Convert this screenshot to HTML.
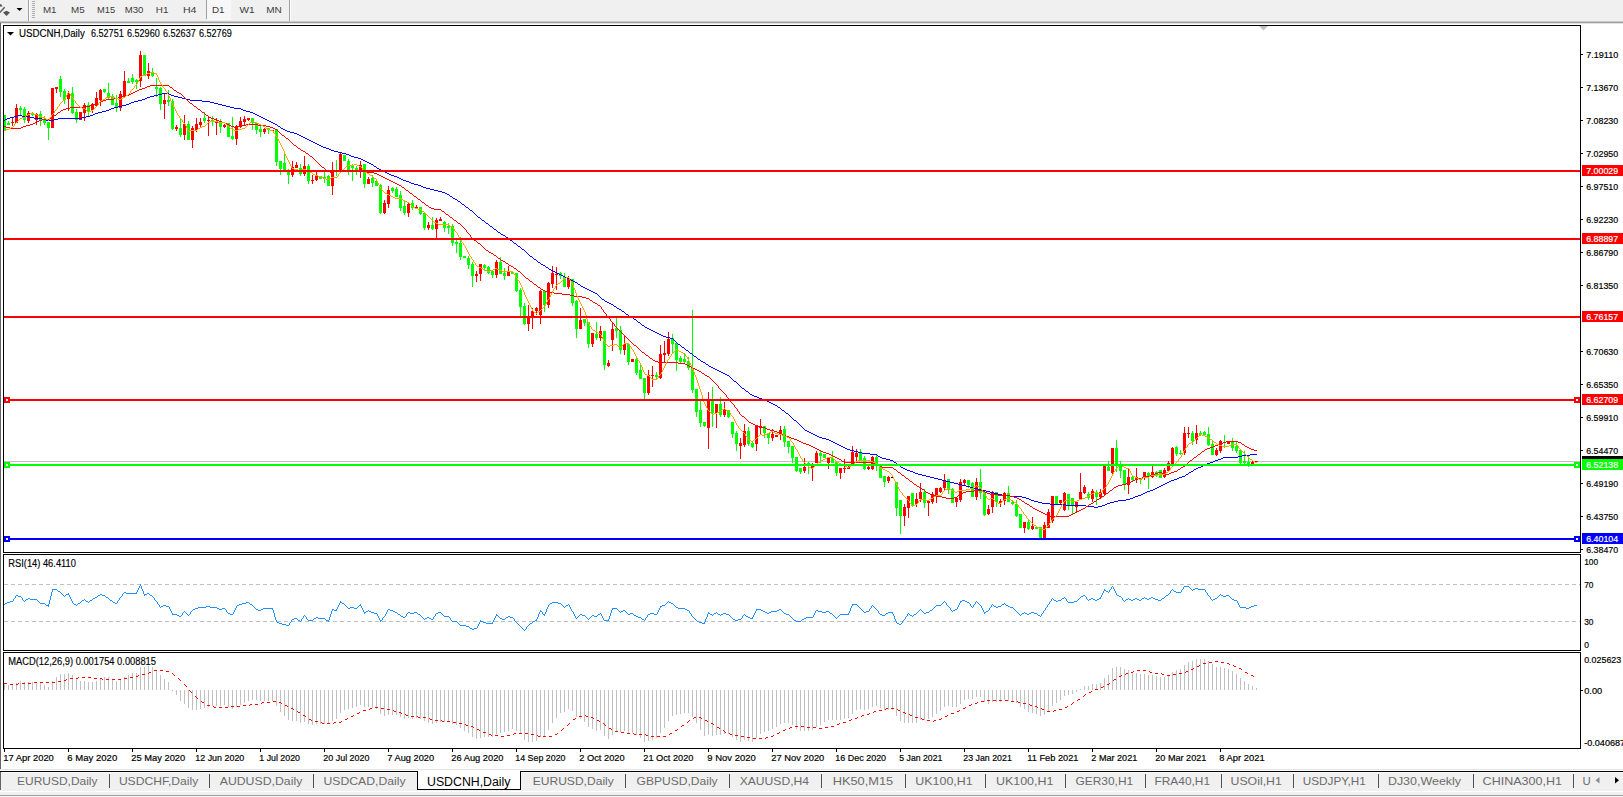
<!DOCTYPE html><html><head><meta charset="utf-8"><title>USDCNH,Daily</title><style>html,body{margin:0;padding:0;background:#fff;overflow:hidden}svg{display:block}</style></head><body><svg width="1623" height="797" viewBox="0 0 1623 797" style="display:block" font-family="Liberation Sans, sans-serif">
<rect width="1623" height="797" fill="#fff"/>
<g shape-rendering="crispEdges">
<rect x="0" y="0" width="1623" height="21" fill="#f0f0f0"/>
<rect x="0" y="21" width="1623" height="1" fill="#c8c8c8"/>
<rect x="0" y="22" width="1623" height="1" fill="#a0a0a0"/>
<rect x="0" y="23" width="1623" height="1" fill="#e3e3e3"/>
<rect x="0" y="23" width="1" height="746" fill="#646464"/>
<rect x="28" y="0" width="1" height="21" fill="#a0a0a0"/><rect x="29" y="0" width="1" height="21" fill="#fff"/>
<rect x="206" y="0" width="1" height="19" fill="#a0a0a0"/>
<rect x="207" y="0" width="24" height="20" fill="#f7f7f7"/>
<rect x="289" y="0" width="1" height="21" fill="#a0a0a0"/><rect x="290" y="0" width="1" height="21" fill="#fff"/>
<rect x="32" y="1" width="3" height="1" fill="#b0b0b0"/>
<rect x="32" y="3" width="3" height="1" fill="#b0b0b0"/>
<rect x="32" y="5" width="3" height="1" fill="#b0b0b0"/>
<rect x="32" y="7" width="3" height="1" fill="#b0b0b0"/>
<rect x="32" y="9" width="3" height="1" fill="#b0b0b0"/>
<rect x="32" y="11" width="3" height="1" fill="#b0b0b0"/>
<rect x="32" y="13" width="3" height="1" fill="#b0b0b0"/>
<rect x="32" y="15" width="3" height="1" fill="#b0b0b0"/>
<rect x="32" y="17" width="3" height="1" fill="#b0b0b0"/>
</g>
<path d="M0 4.2 L1.2 4.2 L2.6 6.4 L0 6.4Z" fill="#555"/><path d="M0 11.2 L4.2 6.8 L5.2 7.8 L0 13.2Z" fill="#555"/><path d="M3 12.6 L6.5 10.8 L10 12.6 L6.5 16Z" fill="#555"/>
<path d="M16.5 8 L22.5 8 L19.5 11Z" fill="#000"/>
<text x="42.9" y="12.9" font-size="9.8" fill="#3c3c3c" textLength="13.6" lengthAdjust="spacingAndGlyphs">M1</text>
<text x="71.0" y="12.9" font-size="9.8" fill="#3c3c3c" textLength="13.6" lengthAdjust="spacingAndGlyphs">M5</text>
<text x="97.1" y="12.9" font-size="9.8" fill="#3c3c3c" textLength="18.1" lengthAdjust="spacingAndGlyphs">M15</text>
<text x="124.7" y="12.9" font-size="9.8" fill="#3c3c3c" textLength="18.6" lengthAdjust="spacingAndGlyphs">M30</text>
<text x="155.8" y="12.9" font-size="9.8" fill="#3c3c3c" textLength="12.6" lengthAdjust="spacingAndGlyphs">H1</text>
<text x="182.9" y="12.9" font-size="9.8" fill="#3c3c3c" textLength="13.6" lengthAdjust="spacingAndGlyphs">H4</text>
<text x="212.0" y="12.9" font-size="9.8" fill="#3c3c3c" textLength="12.6" lengthAdjust="spacingAndGlyphs">D1</text>
<text x="239.6" y="12.9" font-size="9.8" fill="#3c3c3c" textLength="15.1" lengthAdjust="spacingAndGlyphs">W1</text>
<text x="266.2" y="12.9" font-size="9.8" fill="#3c3c3c" textLength="15.6" lengthAdjust="spacingAndGlyphs">MN</text>
<g shape-rendering="crispEdges" fill="#000">
<rect x="3" y="25" width="1578" height="1"/>
<rect x="3" y="552" width="1578" height="1"/>
<rect x="3" y="25" width="1" height="528"/>
<rect x="1580" y="25" width="1" height="528"/>
<rect x="3" y="554" width="1578" height="1"/>
<rect x="3" y="650" width="1578" height="1"/>
<rect x="3" y="554" width="1" height="97"/>
<rect x="1580" y="554" width="1" height="97"/>
<rect x="3" y="652" width="1578" height="1"/>
<rect x="3" y="748" width="1578" height="1"/>
<rect x="3" y="652" width="1" height="97"/>
<rect x="1580" y="652" width="1" height="97"/>
</g>
<g shape-rendering="crispEdges" fill="#000">
<rect x="1581" y="54" width="2" height="1"/>
<rect x="1581" y="87" width="2" height="1"/>
<rect x="1581" y="120" width="2" height="1"/>
<rect x="1581" y="153" width="2" height="1"/>
<rect x="1581" y="186" width="2" height="1"/>
<rect x="1581" y="219" width="2" height="1"/>
<rect x="1581" y="252" width="2" height="1"/>
<rect x="1581" y="285" width="2" height="1"/>
<rect x="1581" y="351" width="2" height="1"/>
<rect x="1581" y="384" width="2" height="1"/>
<rect x="1581" y="417" width="2" height="1"/>
<rect x="1581" y="450" width="2" height="1"/>
<rect x="1581" y="483" width="2" height="1"/>
<rect x="1581" y="516" width="2" height="1"/>
<rect x="1581" y="549" width="2" height="1"/>
</g>
<g font-size="9.8" fill="#000" stroke="#000" stroke-width="0.2">
<text x="1586.2" y="58" textLength="32" lengthAdjust="spacingAndGlyphs">7.19110</text>
<text x="1586.2" y="91" textLength="32" lengthAdjust="spacingAndGlyphs">7.13670</text>
<text x="1586.2" y="124" textLength="32" lengthAdjust="spacingAndGlyphs">7.08230</text>
<text x="1586.2" y="157" textLength="32" lengthAdjust="spacingAndGlyphs">7.02950</text>
<text x="1586.2" y="190" textLength="32" lengthAdjust="spacingAndGlyphs">6.97510</text>
<text x="1586.2" y="223" textLength="32" lengthAdjust="spacingAndGlyphs">6.92230</text>
<text x="1586.2" y="256" textLength="32" lengthAdjust="spacingAndGlyphs">6.86790</text>
<text x="1586.2" y="289" textLength="32" lengthAdjust="spacingAndGlyphs">6.81350</text>
<text x="1586.2" y="355" textLength="32" lengthAdjust="spacingAndGlyphs">6.70630</text>
<text x="1586.2" y="388" textLength="32" lengthAdjust="spacingAndGlyphs">6.65350</text>
<text x="1586.2" y="421" textLength="32" lengthAdjust="spacingAndGlyphs">6.59910</text>
<text x="1586.2" y="454" textLength="32" lengthAdjust="spacingAndGlyphs">6.54470</text>
<text x="1586.2" y="487" textLength="32" lengthAdjust="spacingAndGlyphs">6.49190</text>
<text x="1586.2" y="520" textLength="32" lengthAdjust="spacingAndGlyphs">6.43750</text>
<text x="1586.2" y="553" textLength="32" lengthAdjust="spacingAndGlyphs">6.38470</text>
</g>
<path d="M1259 26 L1268 26 L1263.5 30.5Z" fill="#c0c0c0"/>
<g shape-rendering="crispEdges"><rect x="4" y="461" width="1576" height="1" fill="#c0c0c0"/></g>
<g shape-rendering="crispEdges">
<rect x="4" y="115" width="2" height="15" fill="#00ff00"/>
<rect x="8" y="121" width="1" height="4" fill="#00ff00"/>
<rect x="7" y="123" width="3" height="2" fill="#00ff00"/>
<rect x="12" y="118" width="1" height="8" fill="#ff0000"/>
<rect x="11" y="122" width="3" height="1" fill="#ff0000"/>
<rect x="16" y="104" width="1" height="19" fill="#ff0000"/>
<rect x="15" y="108" width="3" height="15" fill="#ff0000"/>
<rect x="20" y="106" width="1" height="9" fill="#00ff00"/>
<rect x="19" y="108" width="3" height="2" fill="#00ff00"/>
<rect x="24" y="107" width="1" height="16" fill="#00ff00"/>
<rect x="23" y="109" width="3" height="11" fill="#00ff00"/>
<rect x="28" y="111" width="1" height="12" fill="#ff0000"/>
<rect x="27" y="113" width="3" height="8" fill="#ff0000"/>
<rect x="32" y="112" width="1" height="4" fill="#00ff00"/>
<rect x="31" y="113" width="3" height="2" fill="#00ff00"/>
<rect x="36" y="113" width="1" height="12" fill="#ff0000"/>
<rect x="35" y="114" width="3" height="6" fill="#ff0000"/>
<rect x="40" y="111" width="1" height="15" fill="#00ff00"/>
<rect x="39" y="114" width="3" height="7" fill="#00ff00"/>
<rect x="44" y="116" width="1" height="9" fill="#00ff00"/>
<rect x="43" y="120" width="3" height="3" fill="#00ff00"/>
<rect x="48" y="122" width="1" height="18" fill="#00ff00"/>
<rect x="47" y="122" width="3" height="6" fill="#00ff00"/>
<rect x="51" y="88" width="3" height="40" fill="#ff0000"/>
<rect x="56" y="87" width="1" height="6" fill="#ff0000"/>
<rect x="55" y="87" width="3" height="2" fill="#ff0000"/>
<rect x="60" y="76" width="1" height="21" fill="#00ff00"/>
<rect x="59" y="79" width="3" height="13" fill="#00ff00"/>
<rect x="64" y="89" width="1" height="15" fill="#00ff00"/>
<rect x="63" y="91" width="3" height="9" fill="#00ff00"/>
<rect x="68" y="91" width="1" height="20" fill="#ff0000"/>
<rect x="67" y="93" width="3" height="6" fill="#ff0000"/>
<rect x="72" y="87" width="1" height="27" fill="#00ff00"/>
<rect x="71" y="93" width="3" height="20" fill="#00ff00"/>
<rect x="76" y="109" width="1" height="14" fill="#00ff00"/>
<rect x="75" y="112" width="3" height="8" fill="#00ff00"/>
<rect x="79" y="112" width="3" height="8" fill="#ff0000"/>
<rect x="84" y="103" width="1" height="18" fill="#ff0000"/>
<rect x="83" y="105" width="3" height="8" fill="#ff0000"/>
<rect x="88" y="102" width="1" height="14" fill="#00ff00"/>
<rect x="87" y="105" width="3" height="7" fill="#00ff00"/>
<rect x="92" y="103" width="1" height="10" fill="#ff0000"/>
<rect x="91" y="104" width="3" height="6" fill="#ff0000"/>
<rect x="96" y="92" width="1" height="14" fill="#ff0000"/>
<rect x="95" y="98" width="3" height="8" fill="#ff0000"/>
<rect x="100" y="89" width="1" height="17" fill="#ff0000"/>
<rect x="99" y="90" width="3" height="10" fill="#ff0000"/>
<rect x="104" y="89" width="1" height="4" fill="#00ff00"/>
<rect x="103" y="89" width="3" height="3" fill="#00ff00"/>
<rect x="108" y="83" width="1" height="16" fill="#00ff00"/>
<rect x="107" y="93" width="3" height="5" fill="#00ff00"/>
<rect x="112" y="94" width="1" height="11" fill="#00ff00"/>
<rect x="111" y="96" width="3" height="9" fill="#00ff00"/>
<rect x="116" y="95" width="1" height="17" fill="#00ff00"/>
<rect x="115" y="103" width="3" height="5" fill="#00ff00"/>
<rect x="120" y="91" width="1" height="20" fill="#ff0000"/>
<rect x="119" y="94" width="3" height="14" fill="#ff0000"/>
<rect x="124" y="71" width="1" height="26" fill="#ff0000"/>
<rect x="123" y="81" width="3" height="15" fill="#ff0000"/>
<rect x="128" y="78" width="1" height="5" fill="#00ff00"/>
<rect x="127" y="81" width="3" height="2" fill="#00ff00"/>
<rect x="132" y="74" width="1" height="10" fill="#00ff00"/>
<rect x="131" y="78" width="3" height="4" fill="#00ff00"/>
<rect x="136" y="79" width="1" height="10" fill="#00ff00"/>
<rect x="135" y="80" width="3" height="2" fill="#00ff00"/>
<rect x="140" y="51" width="1" height="36" fill="#ff0000"/>
<rect x="139" y="55" width="3" height="26" fill="#ff0000"/>
<rect x="143" y="55" width="3" height="21" fill="#00ff00"/>
<rect x="148" y="63" width="1" height="16" fill="#ff0000"/>
<rect x="147" y="71" width="3" height="5" fill="#ff0000"/>
<rect x="152" y="68" width="1" height="9" fill="#00ff00"/>
<rect x="151" y="72" width="3" height="4" fill="#00ff00"/>
<rect x="156" y="78" width="1" height="19" fill="#00ff00"/>
<rect x="155" y="87" width="3" height="2" fill="#00ff00"/>
<rect x="160" y="87" width="1" height="23" fill="#00ff00"/>
<rect x="159" y="88" width="3" height="16" fill="#00ff00"/>
<rect x="164" y="93" width="1" height="26" fill="#ff0000"/>
<rect x="163" y="100" width="3" height="4" fill="#ff0000"/>
<rect x="168" y="90" width="1" height="16" fill="#00ff00"/>
<rect x="167" y="100" width="3" height="2" fill="#00ff00"/>
<rect x="172" y="99" width="1" height="31" fill="#00ff00"/>
<rect x="171" y="101" width="3" height="28" fill="#00ff00"/>
<rect x="176" y="125" width="1" height="6" fill="#ff0000"/>
<rect x="175" y="127" width="3" height="2" fill="#ff0000"/>
<rect x="180" y="119" width="1" height="18" fill="#00ff00"/>
<rect x="179" y="128" width="3" height="7" fill="#00ff00"/>
<rect x="184" y="115" width="1" height="25" fill="#ff0000"/>
<rect x="183" y="124" width="3" height="11" fill="#ff0000"/>
<rect x="188" y="121" width="1" height="19" fill="#00ff00"/>
<rect x="187" y="124" width="3" height="16" fill="#00ff00"/>
<rect x="192" y="126" width="1" height="22" fill="#ff0000"/>
<rect x="191" y="128" width="3" height="12" fill="#ff0000"/>
<rect x="196" y="118" width="1" height="14" fill="#ff0000"/>
<rect x="195" y="124" width="3" height="6" fill="#ff0000"/>
<rect x="200" y="118" width="1" height="9" fill="#ff0000"/>
<rect x="199" y="122" width="3" height="3" fill="#ff0000"/>
<rect x="204" y="112" width="1" height="11" fill="#00ff00"/>
<rect x="203" y="118" width="3" height="3" fill="#00ff00"/>
<rect x="208" y="116" width="1" height="20" fill="#ff0000"/>
<rect x="207" y="120" width="3" height="1" fill="#ff0000"/>
<rect x="212" y="116" width="1" height="10" fill="#00ff00"/>
<rect x="211" y="120" width="3" height="2" fill="#00ff00"/>
<rect x="216" y="118" width="1" height="17" fill="#ff0000"/>
<rect x="215" y="122" width="3" height="1" fill="#ff0000"/>
<rect x="220" y="119" width="1" height="14" fill="#00ff00"/>
<rect x="219" y="123" width="3" height="4" fill="#00ff00"/>
<rect x="224" y="124" width="1" height="4" fill="#ff0000"/>
<rect x="223" y="125" width="3" height="2" fill="#ff0000"/>
<rect x="227" y="123" width="3" height="14" fill="#00ff00"/>
<rect x="232" y="117" width="1" height="23" fill="#00ff00"/>
<rect x="231" y="136" width="3" height="3" fill="#00ff00"/>
<rect x="236" y="125" width="1" height="20" fill="#ff0000"/>
<rect x="235" y="126" width="3" height="13" fill="#ff0000"/>
<rect x="240" y="117" width="1" height="11" fill="#ff0000"/>
<rect x="239" y="121" width="3" height="6" fill="#ff0000"/>
<rect x="244" y="116" width="1" height="9" fill="#ff0000"/>
<rect x="243" y="119" width="3" height="3" fill="#ff0000"/>
<rect x="248" y="118" width="1" height="3" fill="#ff0000"/>
<rect x="247" y="118" width="3" height="2" fill="#ff0000"/>
<rect x="252" y="118" width="1" height="12" fill="#00ff00"/>
<rect x="251" y="118" width="3" height="5" fill="#00ff00"/>
<rect x="256" y="123" width="1" height="11" fill="#00ff00"/>
<rect x="255" y="123" width="3" height="7" fill="#00ff00"/>
<rect x="260" y="124" width="1" height="13" fill="#00ff00"/>
<rect x="259" y="129" width="3" height="3" fill="#00ff00"/>
<rect x="264" y="128" width="1" height="6" fill="#ff0000"/>
<rect x="263" y="129" width="3" height="3" fill="#ff0000"/>
<rect x="268" y="128" width="1" height="6" fill="#00ff00"/>
<rect x="267" y="128" width="3" height="2" fill="#00ff00"/>
<rect x="271" y="130" width="3" height="1" fill="#ff0000"/>
<rect x="276" y="129" width="1" height="37" fill="#00ff00"/>
<rect x="275" y="129" width="3" height="33" fill="#00ff00"/>
<rect x="280" y="161" width="1" height="14" fill="#00ff00"/>
<rect x="279" y="161" width="3" height="8" fill="#00ff00"/>
<rect x="284" y="153" width="1" height="18" fill="#00ff00"/>
<rect x="283" y="163" width="3" height="8" fill="#00ff00"/>
<rect x="288" y="169" width="1" height="15" fill="#00ff00"/>
<rect x="287" y="172" width="3" height="3" fill="#00ff00"/>
<rect x="292" y="161" width="1" height="16" fill="#ff0000"/>
<rect x="291" y="167" width="3" height="8" fill="#ff0000"/>
<rect x="296" y="162" width="1" height="6" fill="#ff0000"/>
<rect x="295" y="165" width="3" height="3" fill="#ff0000"/>
<rect x="300" y="164" width="1" height="12" fill="#00ff00"/>
<rect x="299" y="168" width="3" height="6" fill="#00ff00"/>
<rect x="304" y="156" width="1" height="20" fill="#ff0000"/>
<rect x="303" y="166" width="3" height="8" fill="#ff0000"/>
<rect x="308" y="164" width="1" height="20" fill="#00ff00"/>
<rect x="307" y="166" width="3" height="15" fill="#00ff00"/>
<rect x="312" y="175" width="1" height="9" fill="#ff0000"/>
<rect x="311" y="180" width="3" height="1" fill="#ff0000"/>
<rect x="316" y="172" width="1" height="9" fill="#ff0000"/>
<rect x="315" y="176" width="3" height="4" fill="#ff0000"/>
<rect x="319" y="176" width="3" height="3" fill="#00ff00"/>
<rect x="324" y="172" width="1" height="11" fill="#00ff00"/>
<rect x="323" y="177" width="3" height="2" fill="#00ff00"/>
<rect x="328" y="175" width="1" height="11" fill="#00ff00"/>
<rect x="327" y="176" width="3" height="10" fill="#00ff00"/>
<rect x="332" y="162" width="1" height="33" fill="#ff0000"/>
<rect x="331" y="170" width="3" height="16" fill="#ff0000"/>
<rect x="336" y="160" width="1" height="16" fill="#00ff00"/>
<rect x="335" y="170" width="3" height="2" fill="#00ff00"/>
<rect x="340" y="153" width="1" height="19" fill="#ff0000"/>
<rect x="339" y="154" width="3" height="18" fill="#ff0000"/>
<rect x="343" y="155" width="3" height="6" fill="#00ff00"/>
<rect x="348" y="159" width="1" height="16" fill="#00ff00"/>
<rect x="347" y="161" width="3" height="9" fill="#00ff00"/>
<rect x="352" y="164" width="1" height="17" fill="#00ff00"/>
<rect x="351" y="166" width="3" height="2" fill="#00ff00"/>
<rect x="356" y="166" width="1" height="9" fill="#00ff00"/>
<rect x="355" y="168" width="3" height="2" fill="#00ff00"/>
<rect x="360" y="161" width="1" height="17" fill="#ff0000"/>
<rect x="359" y="165" width="3" height="5" fill="#ff0000"/>
<rect x="364" y="164" width="1" height="24" fill="#00ff00"/>
<rect x="363" y="164" width="3" height="20" fill="#00ff00"/>
<rect x="368" y="177" width="1" height="7" fill="#ff0000"/>
<rect x="367" y="179" width="3" height="5" fill="#ff0000"/>
<rect x="372" y="175" width="1" height="12" fill="#00ff00"/>
<rect x="371" y="178" width="3" height="5" fill="#00ff00"/>
<rect x="376" y="180" width="1" height="6" fill="#00ff00"/>
<rect x="375" y="181" width="3" height="5" fill="#00ff00"/>
<rect x="380" y="184" width="1" height="30" fill="#00ff00"/>
<rect x="379" y="185" width="3" height="28" fill="#00ff00"/>
<rect x="384" y="200" width="1" height="14" fill="#ff0000"/>
<rect x="383" y="203" width="3" height="10" fill="#ff0000"/>
<rect x="388" y="186" width="1" height="22" fill="#ff0000"/>
<rect x="387" y="190" width="3" height="14" fill="#ff0000"/>
<rect x="392" y="187" width="1" height="6" fill="#00ff00"/>
<rect x="391" y="188" width="3" height="3" fill="#00ff00"/>
<rect x="396" y="187" width="1" height="10" fill="#00ff00"/>
<rect x="395" y="189" width="3" height="8" fill="#00ff00"/>
<rect x="400" y="191" width="1" height="20" fill="#00ff00"/>
<rect x="399" y="195" width="3" height="13" fill="#00ff00"/>
<rect x="404" y="200" width="1" height="15" fill="#00ff00"/>
<rect x="403" y="206" width="3" height="7" fill="#00ff00"/>
<rect x="408" y="203" width="1" height="14" fill="#ff0000"/>
<rect x="407" y="204" width="3" height="9" fill="#ff0000"/>
<rect x="412" y="200" width="1" height="10" fill="#00ff00"/>
<rect x="411" y="203" width="3" height="5" fill="#00ff00"/>
<rect x="416" y="205" width="1" height="4" fill="#ff0000"/>
<rect x="415" y="207" width="3" height="1" fill="#ff0000"/>
<rect x="420" y="207" width="1" height="8" fill="#00ff00"/>
<rect x="419" y="207" width="3" height="7" fill="#00ff00"/>
<rect x="424" y="213" width="1" height="17" fill="#00ff00"/>
<rect x="423" y="213" width="3" height="15" fill="#00ff00"/>
<rect x="428" y="222" width="1" height="8" fill="#ff0000"/>
<rect x="427" y="225" width="3" height="3" fill="#ff0000"/>
<rect x="432" y="217" width="1" height="13" fill="#00ff00"/>
<rect x="431" y="225" width="3" height="4" fill="#00ff00"/>
<rect x="436" y="218" width="1" height="20" fill="#ff0000"/>
<rect x="435" y="220" width="3" height="9" fill="#ff0000"/>
<rect x="440" y="217" width="1" height="4" fill="#ff0000"/>
<rect x="439" y="219" width="3" height="2" fill="#ff0000"/>
<rect x="444" y="221" width="1" height="11" fill="#00ff00"/>
<rect x="443" y="222" width="3" height="6" fill="#00ff00"/>
<rect x="448" y="223" width="1" height="11" fill="#00ff00"/>
<rect x="447" y="226" width="3" height="2" fill="#00ff00"/>
<rect x="452" y="224" width="1" height="22" fill="#00ff00"/>
<rect x="451" y="226" width="3" height="17" fill="#00ff00"/>
<rect x="456" y="240" width="1" height="13" fill="#00ff00"/>
<rect x="455" y="242" width="3" height="2" fill="#00ff00"/>
<rect x="460" y="237" width="1" height="23" fill="#00ff00"/>
<rect x="459" y="243" width="3" height="14" fill="#00ff00"/>
<rect x="463" y="256" width="3" height="2" fill="#00ff00"/>
<rect x="468" y="256" width="1" height="13" fill="#00ff00"/>
<rect x="467" y="258" width="3" height="7" fill="#00ff00"/>
<rect x="472" y="262" width="1" height="25" fill="#00ff00"/>
<rect x="471" y="264" width="3" height="12" fill="#00ff00"/>
<rect x="476" y="271" width="1" height="11" fill="#ff0000"/>
<rect x="475" y="274" width="3" height="2" fill="#ff0000"/>
<rect x="480" y="264" width="1" height="17" fill="#ff0000"/>
<rect x="479" y="264" width="3" height="10" fill="#ff0000"/>
<rect x="484" y="264" width="1" height="7" fill="#00ff00"/>
<rect x="483" y="265" width="3" height="3" fill="#00ff00"/>
<rect x="488" y="266" width="1" height="8" fill="#00ff00"/>
<rect x="487" y="267" width="3" height="6" fill="#00ff00"/>
<rect x="492" y="270" width="1" height="8" fill="#00ff00"/>
<rect x="491" y="271" width="3" height="4" fill="#00ff00"/>
<rect x="496" y="260" width="1" height="18" fill="#ff0000"/>
<rect x="495" y="262" width="3" height="13" fill="#ff0000"/>
<rect x="500" y="257" width="1" height="17" fill="#00ff00"/>
<rect x="499" y="262" width="3" height="12" fill="#00ff00"/>
<rect x="504" y="268" width="1" height="12" fill="#00ff00"/>
<rect x="503" y="273" width="3" height="3" fill="#00ff00"/>
<rect x="508" y="266" width="1" height="10" fill="#ff0000"/>
<rect x="507" y="271" width="3" height="5" fill="#ff0000"/>
<rect x="511" y="272" width="3" height="2" fill="#00ff00"/>
<rect x="516" y="273" width="1" height="19" fill="#00ff00"/>
<rect x="515" y="273" width="3" height="18" fill="#00ff00"/>
<rect x="520" y="288" width="1" height="28" fill="#00ff00"/>
<rect x="519" y="290" width="3" height="17" fill="#00ff00"/>
<rect x="524" y="303" width="1" height="22" fill="#00ff00"/>
<rect x="523" y="306" width="3" height="18" fill="#00ff00"/>
<rect x="528" y="305" width="1" height="26" fill="#ff0000"/>
<rect x="527" y="317" width="3" height="7" fill="#ff0000"/>
<rect x="532" y="308" width="1" height="21" fill="#ff0000"/>
<rect x="531" y="311" width="3" height="6" fill="#ff0000"/>
<rect x="536" y="307" width="1" height="8" fill="#ff0000"/>
<rect x="535" y="308" width="3" height="3" fill="#ff0000"/>
<rect x="540" y="290" width="1" height="34" fill="#ff0000"/>
<rect x="539" y="291" width="3" height="24" fill="#ff0000"/>
<rect x="544" y="291" width="1" height="21" fill="#00ff00"/>
<rect x="543" y="291" width="3" height="14" fill="#00ff00"/>
<rect x="548" y="282" width="1" height="26" fill="#ff0000"/>
<rect x="547" y="283" width="3" height="22" fill="#ff0000"/>
<rect x="552" y="266" width="1" height="22" fill="#ff0000"/>
<rect x="551" y="273" width="3" height="11" fill="#ff0000"/>
<rect x="556" y="267" width="1" height="23" fill="#ff0000"/>
<rect x="555" y="274" width="3" height="1" fill="#ff0000"/>
<rect x="560" y="272" width="1" height="7" fill="#00ff00"/>
<rect x="559" y="273" width="3" height="3" fill="#00ff00"/>
<rect x="564" y="273" width="1" height="14" fill="#00ff00"/>
<rect x="563" y="277" width="3" height="10" fill="#00ff00"/>
<rect x="568" y="276" width="1" height="13" fill="#ff0000"/>
<rect x="567" y="279" width="3" height="8" fill="#ff0000"/>
<rect x="572" y="279" width="1" height="27" fill="#00ff00"/>
<rect x="571" y="279" width="3" height="24" fill="#00ff00"/>
<rect x="576" y="300" width="1" height="38" fill="#00ff00"/>
<rect x="575" y="301" width="3" height="28" fill="#00ff00"/>
<rect x="580" y="308" width="1" height="21" fill="#ff0000"/>
<rect x="579" y="320" width="3" height="9" fill="#ff0000"/>
<rect x="584" y="319" width="1" height="7" fill="#00ff00"/>
<rect x="583" y="319" width="3" height="4" fill="#00ff00"/>
<rect x="588" y="322" width="1" height="26" fill="#00ff00"/>
<rect x="587" y="322" width="3" height="22" fill="#00ff00"/>
<rect x="592" y="333" width="1" height="14" fill="#ff0000"/>
<rect x="591" y="333" width="3" height="11" fill="#ff0000"/>
<rect x="596" y="322" width="1" height="18" fill="#00ff00"/>
<rect x="595" y="334" width="3" height="4" fill="#00ff00"/>
<rect x="600" y="326" width="1" height="15" fill="#ff0000"/>
<rect x="599" y="331" width="3" height="7" fill="#ff0000"/>
<rect x="604" y="331" width="1" height="39" fill="#00ff00"/>
<rect x="603" y="331" width="3" height="34" fill="#00ff00"/>
<rect x="608" y="360" width="1" height="7" fill="#ff0000"/>
<rect x="607" y="363" width="3" height="3" fill="#ff0000"/>
<rect x="612" y="323" width="1" height="28" fill="#ff0000"/>
<rect x="611" y="329" width="3" height="11" fill="#ff0000"/>
<rect x="616" y="318" width="1" height="20" fill="#00ff00"/>
<rect x="615" y="328" width="3" height="3" fill="#00ff00"/>
<rect x="620" y="326" width="1" height="28" fill="#00ff00"/>
<rect x="619" y="330" width="3" height="20" fill="#00ff00"/>
<rect x="624" y="336" width="1" height="19" fill="#ff0000"/>
<rect x="623" y="344" width="3" height="6" fill="#ff0000"/>
<rect x="628" y="344" width="1" height="21" fill="#00ff00"/>
<rect x="627" y="344" width="3" height="18" fill="#00ff00"/>
<rect x="631" y="359" width="3" height="3" fill="#ff0000"/>
<rect x="636" y="356" width="1" height="19" fill="#00ff00"/>
<rect x="635" y="359" width="3" height="14" fill="#00ff00"/>
<rect x="640" y="365" width="1" height="14" fill="#00ff00"/>
<rect x="639" y="370" width="3" height="9" fill="#00ff00"/>
<rect x="644" y="378" width="1" height="21" fill="#00ff00"/>
<rect x="643" y="378" width="3" height="15" fill="#00ff00"/>
<rect x="648" y="370" width="1" height="25" fill="#ff0000"/>
<rect x="647" y="375" width="3" height="18" fill="#ff0000"/>
<rect x="652" y="366" width="1" height="21" fill="#ff0000"/>
<rect x="651" y="375" width="3" height="1" fill="#ff0000"/>
<rect x="656" y="372" width="1" height="7" fill="#00ff00"/>
<rect x="655" y="375" width="3" height="2" fill="#00ff00"/>
<rect x="660" y="345" width="1" height="34" fill="#ff0000"/>
<rect x="659" y="354" width="3" height="24" fill="#ff0000"/>
<rect x="664" y="341" width="1" height="22" fill="#ff0000"/>
<rect x="663" y="353" width="3" height="2" fill="#ff0000"/>
<rect x="668" y="332" width="1" height="24" fill="#ff0000"/>
<rect x="667" y="339" width="3" height="15" fill="#ff0000"/>
<rect x="672" y="334" width="1" height="19" fill="#00ff00"/>
<rect x="671" y="338" width="3" height="6" fill="#00ff00"/>
<rect x="676" y="343" width="1" height="28" fill="#00ff00"/>
<rect x="675" y="343" width="3" height="17" fill="#00ff00"/>
<rect x="680" y="356" width="1" height="8" fill="#00ff00"/>
<rect x="679" y="358" width="3" height="4" fill="#00ff00"/>
<rect x="684" y="353" width="1" height="11" fill="#00ff00"/>
<rect x="683" y="359" width="3" height="3" fill="#00ff00"/>
<rect x="688" y="357" width="1" height="13" fill="#00ff00"/>
<rect x="687" y="361" width="3" height="7" fill="#00ff00"/>
<rect x="692" y="310" width="1" height="83" fill="#00ff00"/>
<rect x="691" y="368" width="3" height="22" fill="#00ff00"/>
<rect x="696" y="389" width="1" height="28" fill="#00ff00"/>
<rect x="695" y="389" width="3" height="23" fill="#00ff00"/>
<rect x="700" y="400" width="1" height="27" fill="#00ff00"/>
<rect x="699" y="410" width="3" height="13" fill="#00ff00"/>
<rect x="704" y="422" width="1" height="5" fill="#00ff00"/>
<rect x="703" y="422" width="3" height="4" fill="#00ff00"/>
<rect x="708" y="392" width="1" height="57" fill="#ff0000"/>
<rect x="707" y="400" width="3" height="28" fill="#ff0000"/>
<rect x="712" y="387" width="1" height="40" fill="#00ff00"/>
<rect x="711" y="400" width="3" height="13" fill="#00ff00"/>
<rect x="716" y="404" width="1" height="24" fill="#ff0000"/>
<rect x="715" y="404" width="3" height="9" fill="#ff0000"/>
<rect x="720" y="397" width="1" height="20" fill="#00ff00"/>
<rect x="719" y="404" width="3" height="11" fill="#00ff00"/>
<rect x="724" y="402" width="1" height="15" fill="#ff0000"/>
<rect x="723" y="410" width="3" height="5" fill="#ff0000"/>
<rect x="728" y="410" width="1" height="8" fill="#00ff00"/>
<rect x="727" y="410" width="3" height="7" fill="#00ff00"/>
<rect x="732" y="422" width="1" height="16" fill="#00ff00"/>
<rect x="731" y="422" width="3" height="12" fill="#00ff00"/>
<rect x="736" y="431" width="1" height="20" fill="#00ff00"/>
<rect x="735" y="433" width="3" height="11" fill="#00ff00"/>
<rect x="740" y="438" width="1" height="21" fill="#ff0000"/>
<rect x="739" y="443" width="3" height="3" fill="#ff0000"/>
<rect x="744" y="424" width="1" height="23" fill="#ff0000"/>
<rect x="743" y="431" width="3" height="14" fill="#ff0000"/>
<rect x="748" y="427" width="1" height="19" fill="#00ff00"/>
<rect x="747" y="431" width="3" height="13" fill="#00ff00"/>
<rect x="752" y="441" width="1" height="7" fill="#00ff00"/>
<rect x="751" y="443" width="3" height="4" fill="#00ff00"/>
<rect x="756" y="426" width="1" height="25" fill="#ff0000"/>
<rect x="755" y="426" width="3" height="18" fill="#ff0000"/>
<rect x="760" y="419" width="1" height="15" fill="#ff0000"/>
<rect x="759" y="426" width="3" height="2" fill="#ff0000"/>
<rect x="764" y="426" width="1" height="12" fill="#00ff00"/>
<rect x="763" y="426" width="3" height="7" fill="#00ff00"/>
<rect x="768" y="433" width="1" height="11" fill="#00ff00"/>
<rect x="767" y="433" width="3" height="5" fill="#00ff00"/>
<rect x="772" y="429" width="1" height="12" fill="#ff0000"/>
<rect x="771" y="434" width="3" height="4" fill="#ff0000"/>
<rect x="775" y="435" width="3" height="2" fill="#ff0000"/>
<rect x="780" y="426" width="1" height="14" fill="#ff0000"/>
<rect x="779" y="430" width="3" height="4" fill="#ff0000"/>
<rect x="784" y="426" width="1" height="21" fill="#00ff00"/>
<rect x="783" y="429" width="3" height="13" fill="#00ff00"/>
<rect x="788" y="441" width="1" height="12" fill="#00ff00"/>
<rect x="787" y="441" width="3" height="6" fill="#00ff00"/>
<rect x="792" y="446" width="1" height="17" fill="#00ff00"/>
<rect x="791" y="446" width="3" height="12" fill="#00ff00"/>
<rect x="796" y="457" width="1" height="15" fill="#00ff00"/>
<rect x="795" y="457" width="3" height="14" fill="#00ff00"/>
<rect x="800" y="468" width="1" height="6" fill="#00ff00"/>
<rect x="799" y="468" width="3" height="4" fill="#00ff00"/>
<rect x="804" y="458" width="1" height="15" fill="#ff0000"/>
<rect x="803" y="467" width="3" height="4" fill="#ff0000"/>
<rect x="808" y="462" width="1" height="12" fill="#00ff00"/>
<rect x="807" y="463" width="3" height="3" fill="#00ff00"/>
<rect x="812" y="463" width="1" height="18" fill="#ff0000"/>
<rect x="811" y="466" width="3" height="2" fill="#ff0000"/>
<rect x="816" y="451" width="1" height="12" fill="#ff0000"/>
<rect x="815" y="453" width="3" height="10" fill="#ff0000"/>
<rect x="820" y="450" width="1" height="13" fill="#00ff00"/>
<rect x="819" y="453" width="3" height="3" fill="#00ff00"/>
<rect x="823" y="454" width="3" height="4" fill="#00ff00"/>
<rect x="828" y="457" width="1" height="12" fill="#ff0000"/>
<rect x="827" y="457" width="3" height="6" fill="#ff0000"/>
<rect x="832" y="451" width="1" height="12" fill="#00ff00"/>
<rect x="831" y="458" width="3" height="5" fill="#00ff00"/>
<rect x="836" y="462" width="1" height="14" fill="#00ff00"/>
<rect x="835" y="462" width="3" height="11" fill="#00ff00"/>
<rect x="840" y="468" width="1" height="11" fill="#ff0000"/>
<rect x="839" y="468" width="3" height="5" fill="#ff0000"/>
<rect x="844" y="459" width="1" height="14" fill="#ff0000"/>
<rect x="843" y="468" width="3" height="1" fill="#ff0000"/>
<rect x="848" y="466" width="1" height="3" fill="#ff0000"/>
<rect x="847" y="467" width="3" height="2" fill="#ff0000"/>
<rect x="852" y="446" width="1" height="18" fill="#ff0000"/>
<rect x="851" y="452" width="3" height="12" fill="#ff0000"/>
<rect x="856" y="449" width="1" height="14" fill="#ff0000"/>
<rect x="855" y="453" width="3" height="4" fill="#ff0000"/>
<rect x="860" y="449" width="1" height="12" fill="#00ff00"/>
<rect x="859" y="453" width="3" height="8" fill="#00ff00"/>
<rect x="864" y="456" width="1" height="14" fill="#00ff00"/>
<rect x="863" y="458" width="3" height="11" fill="#00ff00"/>
<rect x="868" y="466" width="1" height="4" fill="#ff0000"/>
<rect x="867" y="467" width="3" height="2" fill="#ff0000"/>
<rect x="872" y="456" width="1" height="14" fill="#ff0000"/>
<rect x="871" y="457" width="3" height="12" fill="#ff0000"/>
<rect x="876" y="454" width="1" height="17" fill="#00ff00"/>
<rect x="875" y="457" width="3" height="9" fill="#00ff00"/>
<rect x="879" y="467" width="3" height="11" fill="#00ff00"/>
<rect x="884" y="476" width="1" height="11" fill="#00ff00"/>
<rect x="883" y="476" width="3" height="6" fill="#00ff00"/>
<rect x="888" y="476" width="1" height="7" fill="#ff0000"/>
<rect x="887" y="477" width="3" height="4" fill="#ff0000"/>
<rect x="891" y="477" width="3" height="1" fill="#000000"/>
<rect x="896" y="482" width="1" height="34" fill="#00ff00"/>
<rect x="895" y="482" width="3" height="26" fill="#00ff00"/>
<rect x="900" y="500" width="1" height="34" fill="#00ff00"/>
<rect x="899" y="500" width="3" height="16" fill="#00ff00"/>
<rect x="904" y="504" width="1" height="22" fill="#ff0000"/>
<rect x="903" y="507" width="3" height="9" fill="#ff0000"/>
<rect x="908" y="496" width="1" height="22" fill="#ff0000"/>
<rect x="907" y="496" width="3" height="12" fill="#ff0000"/>
<rect x="912" y="493" width="1" height="14" fill="#00ff00"/>
<rect x="911" y="493" width="3" height="12" fill="#00ff00"/>
<rect x="916" y="493" width="1" height="14" fill="#ff0000"/>
<rect x="915" y="499" width="3" height="5" fill="#ff0000"/>
<rect x="920" y="483" width="1" height="19" fill="#ff0000"/>
<rect x="919" y="492" width="3" height="7" fill="#ff0000"/>
<rect x="924" y="489" width="1" height="19" fill="#00ff00"/>
<rect x="923" y="492" width="3" height="11" fill="#00ff00"/>
<rect x="928" y="500" width="1" height="16" fill="#ff0000"/>
<rect x="927" y="501" width="3" height="2" fill="#ff0000"/>
<rect x="932" y="492" width="1" height="12" fill="#ff0000"/>
<rect x="931" y="495" width="3" height="7" fill="#ff0000"/>
<rect x="936" y="488" width="1" height="15" fill="#ff0000"/>
<rect x="935" y="488" width="3" height="9" fill="#ff0000"/>
<rect x="940" y="487" width="1" height="6" fill="#ff0000"/>
<rect x="939" y="488" width="3" height="4" fill="#ff0000"/>
<rect x="944" y="474" width="1" height="16" fill="#ff0000"/>
<rect x="943" y="480" width="3" height="8" fill="#ff0000"/>
<rect x="948" y="479" width="1" height="15" fill="#00ff00"/>
<rect x="947" y="479" width="3" height="11" fill="#00ff00"/>
<rect x="952" y="488" width="1" height="15" fill="#00ff00"/>
<rect x="951" y="489" width="3" height="14" fill="#00ff00"/>
<rect x="956" y="498" width="1" height="9" fill="#ff0000"/>
<rect x="955" y="498" width="3" height="4" fill="#ff0000"/>
<rect x="960" y="479" width="1" height="23" fill="#ff0000"/>
<rect x="959" y="482" width="3" height="18" fill="#ff0000"/>
<rect x="964" y="479" width="1" height="6" fill="#ff0000"/>
<rect x="963" y="480" width="3" height="3" fill="#ff0000"/>
<rect x="968" y="480" width="1" height="8" fill="#00ff00"/>
<rect x="967" y="480" width="3" height="5" fill="#00ff00"/>
<rect x="972" y="482" width="1" height="15" fill="#00ff00"/>
<rect x="971" y="483" width="3" height="14" fill="#00ff00"/>
<rect x="976" y="478" width="1" height="22" fill="#ff0000"/>
<rect x="975" y="482" width="3" height="15" fill="#ff0000"/>
<rect x="980" y="469" width="1" height="30" fill="#00ff00"/>
<rect x="979" y="482" width="3" height="11" fill="#00ff00"/>
<rect x="984" y="492" width="1" height="24" fill="#00ff00"/>
<rect x="983" y="492" width="3" height="23" fill="#00ff00"/>
<rect x="988" y="505" width="1" height="10" fill="#ff0000"/>
<rect x="987" y="509" width="3" height="5" fill="#ff0000"/>
<rect x="992" y="491" width="1" height="22" fill="#ff0000"/>
<rect x="991" y="493" width="3" height="14" fill="#ff0000"/>
<rect x="996" y="492" width="1" height="15" fill="#00ff00"/>
<rect x="995" y="492" width="3" height="10" fill="#00ff00"/>
<rect x="1000" y="499" width="1" height="8" fill="#ff0000"/>
<rect x="999" y="501" width="3" height="2" fill="#ff0000"/>
<rect x="1004" y="492" width="1" height="13" fill="#ff0000"/>
<rect x="1003" y="493" width="3" height="8" fill="#ff0000"/>
<rect x="1008" y="486" width="1" height="16" fill="#00ff00"/>
<rect x="1007" y="493" width="3" height="9" fill="#00ff00"/>
<rect x="1012" y="500" width="1" height="5" fill="#00ff00"/>
<rect x="1011" y="502" width="3" height="2" fill="#00ff00"/>
<rect x="1016" y="500" width="1" height="17" fill="#00ff00"/>
<rect x="1015" y="504" width="3" height="12" fill="#00ff00"/>
<rect x="1019" y="514" width="3" height="14" fill="#00ff00"/>
<rect x="1024" y="522" width="1" height="11" fill="#ff0000"/>
<rect x="1023" y="522" width="3" height="6" fill="#ff0000"/>
<rect x="1028" y="520" width="1" height="10" fill="#00ff00"/>
<rect x="1027" y="522" width="3" height="7" fill="#00ff00"/>
<rect x="1032" y="517" width="1" height="13" fill="#ff0000"/>
<rect x="1031" y="526" width="3" height="3" fill="#ff0000"/>
<rect x="1036" y="526" width="1" height="3" fill="#00ff00"/>
<rect x="1035" y="527" width="3" height="2" fill="#00ff00"/>
<rect x="1040" y="527" width="1" height="12" fill="#00ff00"/>
<rect x="1039" y="527" width="3" height="11" fill="#00ff00"/>
<rect x="1044" y="522" width="1" height="16" fill="#ff0000"/>
<rect x="1043" y="525" width="3" height="13" fill="#ff0000"/>
<rect x="1048" y="509" width="1" height="19" fill="#ff0000"/>
<rect x="1047" y="512" width="3" height="16" fill="#ff0000"/>
<rect x="1052" y="496" width="1" height="27" fill="#ff0000"/>
<rect x="1051" y="496" width="3" height="25" fill="#ff0000"/>
<rect x="1056" y="496" width="1" height="9" fill="#00ff00"/>
<rect x="1055" y="496" width="3" height="8" fill="#00ff00"/>
<rect x="1060" y="500" width="1" height="5" fill="#ff0000"/>
<rect x="1059" y="500" width="3" height="3" fill="#ff0000"/>
<rect x="1064" y="492" width="1" height="19" fill="#ff0000"/>
<rect x="1063" y="493" width="3" height="17" fill="#ff0000"/>
<rect x="1068" y="494" width="1" height="16" fill="#00ff00"/>
<rect x="1067" y="494" width="3" height="11" fill="#00ff00"/>
<rect x="1072" y="498" width="1" height="16" fill="#00ff00"/>
<rect x="1071" y="498" width="3" height="7" fill="#00ff00"/>
<rect x="1076" y="501" width="1" height="12" fill="#ff0000"/>
<rect x="1075" y="502" width="3" height="5" fill="#ff0000"/>
<rect x="1080" y="473" width="1" height="27" fill="#ff0000"/>
<rect x="1079" y="492" width="3" height="8" fill="#ff0000"/>
<rect x="1084" y="485" width="1" height="9" fill="#ff0000"/>
<rect x="1083" y="487" width="3" height="6" fill="#ff0000"/>
<rect x="1088" y="492" width="1" height="8" fill="#00ff00"/>
<rect x="1087" y="494" width="3" height="4" fill="#00ff00"/>
<rect x="1092" y="489" width="1" height="13" fill="#ff0000"/>
<rect x="1091" y="491" width="3" height="8" fill="#ff0000"/>
<rect x="1096" y="490" width="1" height="15" fill="#00ff00"/>
<rect x="1095" y="492" width="3" height="5" fill="#00ff00"/>
<rect x="1100" y="489" width="1" height="9" fill="#ff0000"/>
<rect x="1099" y="492" width="3" height="5" fill="#ff0000"/>
<rect x="1104" y="465" width="1" height="30" fill="#ff0000"/>
<rect x="1103" y="465" width="3" height="29" fill="#ff0000"/>
<rect x="1108" y="461" width="1" height="10" fill="#00ff00"/>
<rect x="1107" y="467" width="3" height="4" fill="#00ff00"/>
<rect x="1112" y="448" width="1" height="27" fill="#ff0000"/>
<rect x="1111" y="448" width="3" height="25" fill="#ff0000"/>
<rect x="1116" y="440" width="1" height="32" fill="#00ff00"/>
<rect x="1115" y="448" width="3" height="17" fill="#00ff00"/>
<rect x="1120" y="461" width="1" height="17" fill="#00ff00"/>
<rect x="1119" y="465" width="3" height="6" fill="#00ff00"/>
<rect x="1124" y="470" width="1" height="20" fill="#00ff00"/>
<rect x="1123" y="470" width="3" height="14" fill="#00ff00"/>
<rect x="1128" y="469" width="1" height="25" fill="#ff0000"/>
<rect x="1127" y="477" width="3" height="8" fill="#ff0000"/>
<rect x="1132" y="475" width="1" height="7" fill="#00ff00"/>
<rect x="1131" y="477" width="3" height="3" fill="#00ff00"/>
<rect x="1136" y="468" width="1" height="15" fill="#ff0000"/>
<rect x="1135" y="477" width="3" height="2" fill="#ff0000"/>
<rect x="1140" y="478" width="1" height="6" fill="#00ff00"/>
<rect x="1139" y="479" width="3" height="1" fill="#00ff00"/>
<rect x="1144" y="472" width="1" height="8" fill="#ff0000"/>
<rect x="1143" y="472" width="3" height="5" fill="#ff0000"/>
<rect x="1148" y="472" width="1" height="17" fill="#00ff00"/>
<rect x="1147" y="473" width="3" height="3" fill="#00ff00"/>
<rect x="1152" y="466" width="1" height="12" fill="#ff0000"/>
<rect x="1151" y="472" width="3" height="5" fill="#ff0000"/>
<rect x="1156" y="471" width="1" height="6" fill="#00ff00"/>
<rect x="1155" y="472" width="3" height="3" fill="#00ff00"/>
<rect x="1159" y="470" width="3" height="8" fill="#00ff00"/>
<rect x="1164" y="468" width="1" height="10" fill="#ff0000"/>
<rect x="1163" y="470" width="3" height="7" fill="#ff0000"/>
<rect x="1168" y="461" width="1" height="11" fill="#ff0000"/>
<rect x="1167" y="463" width="3" height="8" fill="#ff0000"/>
<rect x="1172" y="447" width="1" height="18" fill="#ff0000"/>
<rect x="1171" y="448" width="3" height="16" fill="#ff0000"/>
<rect x="1176" y="446" width="1" height="10" fill="#00ff00"/>
<rect x="1175" y="447" width="3" height="7" fill="#00ff00"/>
<rect x="1180" y="450" width="1" height="5" fill="#00ff00"/>
<rect x="1179" y="453" width="3" height="1" fill="#00ff00"/>
<rect x="1184" y="427" width="1" height="28" fill="#ff0000"/>
<rect x="1183" y="433" width="3" height="20" fill="#ff0000"/>
<rect x="1188" y="427" width="1" height="11" fill="#ff0000"/>
<rect x="1187" y="433" width="3" height="1" fill="#ff0000"/>
<rect x="1192" y="431" width="1" height="14" fill="#00ff00"/>
<rect x="1191" y="433" width="3" height="8" fill="#00ff00"/>
<rect x="1196" y="425" width="1" height="19" fill="#ff0000"/>
<rect x="1195" y="433" width="3" height="7" fill="#ff0000"/>
<rect x="1200" y="431" width="1" height="5" fill="#00ff00"/>
<rect x="1199" y="433" width="3" height="2" fill="#00ff00"/>
<rect x="1204" y="431" width="1" height="5" fill="#00ff00"/>
<rect x="1203" y="432" width="3" height="3" fill="#00ff00"/>
<rect x="1208" y="427" width="1" height="19" fill="#00ff00"/>
<rect x="1207" y="434" width="3" height="11" fill="#00ff00"/>
<rect x="1212" y="441" width="1" height="14" fill="#00ff00"/>
<rect x="1211" y="444" width="3" height="11" fill="#00ff00"/>
<rect x="1216" y="448" width="1" height="8" fill="#ff0000"/>
<rect x="1215" y="450" width="3" height="5" fill="#ff0000"/>
<rect x="1220" y="440" width="1" height="13" fill="#ff0000"/>
<rect x="1219" y="441" width="3" height="10" fill="#ff0000"/>
<rect x="1224" y="435" width="1" height="13" fill="#00ff00"/>
<rect x="1223" y="442" width="3" height="1" fill="#00ff00"/>
<rect x="1228" y="441" width="1" height="3" fill="#ff0000"/>
<rect x="1227" y="442" width="3" height="2" fill="#ff0000"/>
<rect x="1232" y="438" width="1" height="13" fill="#00ff00"/>
<rect x="1231" y="441" width="3" height="7" fill="#00ff00"/>
<rect x="1236" y="442" width="1" height="11" fill="#00ff00"/>
<rect x="1235" y="446" width="3" height="5" fill="#00ff00"/>
<rect x="1240" y="450" width="1" height="14" fill="#00ff00"/>
<rect x="1239" y="450" width="3" height="13" fill="#00ff00"/>
<rect x="1244" y="451" width="1" height="13" fill="#00ff00"/>
<rect x="1243" y="461" width="3" height="2" fill="#00ff00"/>
<rect x="1248" y="456" width="1" height="11" fill="#00ff00"/>
<rect x="1247" y="462" width="3" height="3" fill="#00ff00"/>
<rect x="1252" y="461" width="1" height="3" fill="#ff0000"/>
<rect x="1251" y="462" width="3" height="2" fill="#ff0000"/>
<rect x="1255" y="461" width="3" height="1" fill="#ff0000"/>
</g>
<path d="M4 120h1v1h-1zM5 119h2v1h-2zM7 118h3v1h-3zM10 117h4v1h-4zM14 116h4v1h-4zM18 115h4v1h-4zM22 116h8v1h-8zM30 117h4v1h-4zM34 118h8v1h-8zM42 119h4v1h-4zM46 120h8v1h-8zM54 119h4v1h-4zM58 118h24v1h-24zM82 117h4v1h-4zM86 116h4v1h-4zM90 115h3v1h-3zM93 114h2v1h-2zM95 113h3v1h-3zM98 112h4v1h-4zM102 111h4v1h-4zM106 110h3v1h-3zM109 109h2v1h-2zM111 108h3v1h-3zM114 107h4v1h-4zM118 106h4v1h-4zM122 105h4v1h-4zM126 104h3v1h-3zM129 103h2v1h-2zM131 102h3v1h-3zM134 101h4v1h-4zM138 100h4v1h-4zM142 99h3v1h-3zM145 98h2v1h-2zM147 97h3v1h-3zM150 96h4v1h-4zM154 95h4v1h-4zM158 94h4v1h-4zM162 93h7v1h-7zM169 94h2v1h-2zM171 95h3v1h-3zM174 96h4v1h-4zM178 97h4v1h-4zM182 98h4v1h-4zM186 99h4v1h-4zM190 100h12v1h-12zM202 101h8v1h-8zM210 102h4v1h-4zM214 103h4v1h-4zM218 104h4v1h-4zM222 105h4v1h-4zM226 106h4v1h-4zM230 107h4v1h-4zM234 108h7v1h-7zM241 109h2v1h-2zM243 110h3v1h-3zM246 111h4v1h-4zM250 112h3v1h-3zM253 113h2v1h-2zM255 114h2v1h-2zM257 115h2v1h-2zM259 116h2v1h-2zM261 117h2v1h-2zM263 118h2v1h-2zM265 119h2v1h-2zM267 120h2v1h-2zM269 121h2v1h-2zM271 122h2v1h-2zM273 123h2v1h-2zM275 124h2v1h-2zM277 125h1v1h-1zM278 126h2v1h-2zM280 127h1v1h-1zM281 128h2v1h-2zM283 129h2v1h-2zM285 130h2v1h-2zM287 131h3v1h-3zM290 132h4v1h-4zM294 133h3v1h-3zM297 134h2v1h-2zM299 135h2v1h-2zM301 136h2v1h-2zM303 137h2v1h-2zM305 138h2v1h-2zM307 139h2v1h-2zM309 140h2v1h-2zM311 141h2v1h-2zM313 142h2v1h-2zM315 143h2v1h-2zM317 144h2v1h-2zM319 145h2v1h-2zM321 146h2v1h-2zM323 147h3v1h-3zM326 148h3v1h-3zM329 149h2v1h-2zM331 150h3v1h-3zM334 151h4v1h-4zM338 152h4v1h-4zM342 153h4v1h-4zM346 154h3v1h-3zM349 155h2v1h-2zM351 156h3v1h-3zM354 157h4v1h-4zM358 158h3v1h-3zM361 159h2v1h-2zM363 160h2v1h-2zM365 161h2v1h-2zM367 162h2v1h-2zM369 163h2v1h-2zM371 164h2v1h-2zM373 165h1v1h-1zM374 166h2v1h-2zM376 167h1v1h-1zM377 168h2v1h-2zM379 169h2v1h-2zM381 170h2v1h-2zM383 171h2v1h-2zM385 172h2v1h-2zM387 173h2v1h-2zM389 174h2v1h-2zM391 175h3v1h-3zM394 176h3v1h-3zM397 177h2v1h-2zM399 178h2v1h-2zM401 179h2v1h-2zM403 180h3v1h-3zM406 181h3v1h-3zM409 182h2v1h-2zM411 183h3v1h-3zM414 184h4v1h-4zM418 185h3v1h-3zM421 186h2v1h-2zM423 187h3v1h-3zM426 188h4v1h-4zM430 189h4v1h-4zM434 190h4v1h-4zM438 191h4v1h-4zM442 192h3v1h-3zM445 193h2v1h-2zM447 194h2v1h-2zM449 195h1v1h-1zM450 196h2v1h-2zM452 197h1v1h-1zM453 198h2v1h-2zM455 199h2v1h-2zM457 200h1v1h-1zM458 201h2v1h-2zM460 202h1v1h-1zM461 203h1v1h-1zM462 204h2v1h-2zM464 205h1v1h-1zM465 206h1v1h-1zM466 207h2v1h-2zM468 208h1v1h-1zM469 209h1v1h-1zM470 210h2v1h-2zM472 211h1v1h-1zM473 212h1v1h-1zM474 213h1v1h-1zM475 214h1v1h-1zM476 215h1v1h-1zM477 216h1v1h-1zM478 217h2v1h-2zM480 218h1v1h-1zM481 219h1v1h-1zM482 220h2v1h-2zM484 221h1v1h-1zM485 222h1v1h-1zM486 223h2v1h-2zM488 224h1v1h-1zM489 225h1v1h-1zM490 226h2v1h-2zM492 227h1v1h-1zM493 228h1v1h-1zM494 229h2v1h-2zM496 230h1v1h-1zM497 231h1v1h-1zM498 232h2v1h-2zM500 233h1v1h-1zM501 234h2v1h-2zM503 235h2v1h-2zM505 236h1v1h-1zM506 237h2v1h-2zM508 238h1v1h-1zM509 239h1v1h-1zM510 240h2v1h-2zM512 241h1v1h-1zM513 242h1v1h-1zM514 243h2v1h-2zM516 244h1v1h-1zM517 245h1v1h-1zM518 246h2v1h-2zM520 247h1v1h-1zM521 248h1v1h-1zM522 249h2v1h-2zM524 250h1v1h-1zM525 251h1v1h-1zM526 252h1v1h-1zM527 253h1v1h-1zM528 254h1v1h-1zM529 255h1v1h-1zM530 256h2v1h-2zM532 257h1v1h-1zM533 258h1v1h-1zM534 259h2v1h-2zM536 260h1v1h-1zM537 261h1v1h-1zM538 262h2v1h-2zM540 263h1v1h-1zM541 264h2v1h-2zM543 265h2v1h-2zM545 266h1v1h-1zM546 267h2v1h-2zM548 268h1v1h-1zM549 269h2v1h-2zM551 270h2v1h-2zM553 271h2v1h-2zM555 272h2v1h-2zM557 273h2v1h-2zM559 274h2v1h-2zM561 275h2v1h-2zM563 276h2v1h-2zM565 277h2v1h-2zM567 278h2v1h-2zM569 279h2v1h-2zM571 280h2v1h-2zM573 281h2v1h-2zM575 282h2v1h-2zM577 283h1v1h-1zM578 284h2v1h-2zM580 285h1v1h-1zM581 286h2v1h-2zM583 287h2v1h-2zM585 288h2v1h-2zM587 289h2v1h-2zM589 290h2v1h-2zM591 291h2v1h-2zM593 292h2v1h-2zM595 293h2v1h-2zM597 294h1v1h-1zM598 295h1v1h-1zM599 296h1v1h-1zM600 297h1v1h-1zM601 298h1v1h-1zM602 299h2v1h-2zM604 300h1v1h-1zM605 301h2v1h-2zM607 302h2v1h-2zM609 303h2v1h-2zM611 304h2v1h-2zM613 305h1v1h-1zM614 306h2v1h-2zM616 307h1v1h-1zM617 308h2v1h-2zM619 309h2v1h-2zM621 310h1v1h-1zM622 311h2v1h-2zM624 312h1v1h-1zM625 313h1v1h-1zM626 314h2v1h-2zM628 315h1v1h-1zM629 316h2v1h-2zM631 317h2v1h-2zM633 318h1v1h-1zM634 319h2v1h-2zM636 320h1v1h-1zM637 321h1v1h-1zM638 322h2v1h-2zM640 323h1v1h-1zM641 324h1v1h-1zM642 325h2v1h-2zM644 326h1v1h-1zM645 327h2v1h-2zM647 328h2v1h-2zM649 329h2v1h-2zM651 330h2v1h-2zM653 331h2v1h-2zM655 332h2v1h-2zM657 333h2v1h-2zM659 334h2v1h-2zM661 335h2v1h-2zM663 336h3v1h-3zM666 337h4v1h-4zM670 338h3v1h-3zM673 339h1v1h-1zM674 340h1v1h-1zM675 341h1v1h-1zM676 342h1v1h-1zM677 343h1v1h-1zM678 344h2v1h-2zM680 345h1v1h-1zM681 346h1v1h-1zM682 347h2v1h-2zM684 348h1v1h-1zM685 349h1v1h-1zM686 350h2v1h-2zM688 351h1v1h-1zM689 352h1v1h-1zM690 353h2v1h-2zM692 354h1v1h-1zM693 355h1v1h-1zM694 356h2v1h-2zM696 357h1v1h-1zM697 358h1v1h-1zM698 359h2v1h-2zM700 360h1v1h-1zM701 361h2v1h-2zM703 362h2v1h-2zM705 363h1v1h-1zM706 364h2v1h-2zM708 365h1v1h-1zM709 366h2v1h-2zM711 367h2v1h-2zM713 368h2v1h-2zM715 369h2v1h-2zM717 370h2v1h-2zM719 371h2v1h-2zM721 372h2v1h-2zM723 373h2v1h-2zM725 374h2v1h-2zM727 375h2v1h-2zM729 376h1v1h-1zM730 377h1v1h-1zM731 378h1v1h-1zM732 379h1v1h-1zM733 380h1v1h-1zM734 381h2v1h-2zM736 382h1v1h-1zM737 383h1v1h-1zM738 384h1v1h-1zM739 385h1v1h-1zM740 386h1v1h-1zM741 387h1v1h-1zM742 388h2v1h-2zM744 389h1v1h-1zM745 390h1v1h-1zM746 391h2v1h-2zM748 392h1v1h-1zM749 393h1v1h-1zM750 394h2v1h-2zM752 395h2v1h-2zM754 396h3v1h-3zM757 397h2v1h-2zM759 398h3v1h-3zM762 399h3v1h-3zM765 400h2v1h-2zM767 401h2v1h-2zM769 402h2v1h-2zM771 403h2v1h-2zM773 404h2v1h-2zM775 405h2v1h-2zM777 406h1v1h-1zM778 407h2v1h-2zM780 408h1v1h-1zM781 409h1v1h-1zM782 410h2v1h-2zM784 411h1v1h-1zM785 412h1v1h-1zM786 413h2v1h-2zM788 414h1v1h-1zM789 415h1v1h-1zM790 416h1v1h-1zM791 417h1v1h-1zM792 418h1v1h-1zM793 419h1v1h-1zM794 420h2v1h-2zM796 421h1v1h-1zM797 422h1v1h-1zM798 423h1v1h-1zM799 424h1v1h-1zM800 425h1v1h-1zM801 426h1v1h-1zM802 427h1v1h-1zM803 428h1v1h-1zM804 429h1v1h-1zM805 430h2v1h-2zM807 431h2v1h-2zM809 432h2v1h-2zM811 433h2v1h-2zM813 434h2v1h-2zM815 435h2v1h-2zM817 436h2v1h-2zM819 437h3v1h-3zM822 438h4v1h-4zM826 439h3v1h-3zM829 440h2v1h-2zM831 441h2v1h-2zM833 442h2v1h-2zM835 443h2v1h-2zM837 444h2v1h-2zM839 445h2v1h-2zM841 446h2v1h-2zM843 447h2v1h-2zM845 448h2v1h-2zM847 449h3v1h-3zM850 450h4v1h-4zM854 451h4v1h-4zM858 452h4v1h-4zM862 453h8v1h-8zM870 454h7v1h-7zM877 455h1v1h-1zM878 456h2v1h-2zM880 457h2v1h-2zM882 458h4v1h-4zM886 459h4v1h-4zM890 460h3v1h-3zM893 461h1v1h-1zM894 462h2v1h-2zM896 463h1v1h-1zM897 464h1v1h-1zM898 465h2v1h-2zM900 466h1v1h-1zM901 467h2v1h-2zM903 468h2v1h-2zM905 469h2v1h-2zM907 470h3v1h-3zM910 471h3v1h-3zM913 472h2v1h-2zM915 473h3v1h-3zM918 474h4v1h-4zM922 475h4v1h-4zM926 476h4v1h-4zM930 477h4v1h-4zM934 478h4v1h-4zM938 479h4v1h-4zM942 480h4v1h-4zM946 481h4v1h-4zM950 482h4v1h-4zM954 483h4v1h-4zM958 484h4v1h-4zM962 485h4v1h-4zM966 486h4v1h-4zM970 487h4v1h-4zM974 488h4v1h-4zM978 489h4v1h-4zM982 490h4v1h-4zM986 491h4v1h-4zM990 492h4v1h-4zM994 493h4v1h-4zM998 494h4v1h-4zM1002 495h8v1h-8zM1010 496h12v1h-12zM1022 497h4v1h-4zM1026 498h3v1h-3zM1029 499h2v1h-2zM1031 500h3v1h-3zM1034 501h4v1h-4zM1038 502h4v1h-4zM1042 503h8v1h-8zM1050 504h16v1h-16zM1066 505h20v1h-20zM1086 506h8v1h-8zM1094 507h4v1h-4zM1098 506h4v1h-4zM1102 505h3v1h-3zM1105 504h2v1h-2zM1107 503h3v1h-3zM1110 502h4v1h-4zM1114 501h4v1h-4zM1118 500h8v1h-8zM1126 499h4v1h-4zM1130 498h3v1h-3zM1133 497h2v1h-2zM1135 496h3v1h-3zM1138 495h3v1h-3zM1141 494h2v1h-2zM1143 493h2v1h-2zM1145 492h2v1h-2zM1147 491h3v1h-3zM1150 490h3v1h-3zM1153 489h2v1h-2zM1155 488h2v1h-2zM1157 487h2v1h-2zM1159 486h2v1h-2zM1161 485h2v1h-2zM1163 484h2v1h-2zM1165 483h2v1h-2zM1167 482h2v1h-2zM1169 481h2v1h-2zM1171 480h3v1h-3zM1174 479h3v1h-3zM1177 478h2v1h-2zM1179 477h3v1h-3zM1182 476h3v1h-3zM1185 475h1v1h-1zM1186 474h2v1h-2zM1188 473h1v1h-1zM1189 472h2v1h-2zM1191 471h2v1h-2zM1193 470h1v1h-1zM1194 469h2v1h-2zM1196 468h2v1h-2zM1198 467h3v1h-3zM1201 466h2v1h-2zM1203 465h2v1h-2zM1205 464h2v1h-2zM1207 463h3v1h-3zM1210 462h3v1h-3zM1213 461h2v1h-2zM1215 460h3v1h-3zM1218 459h3v1h-3zM1221 458h2v1h-2zM1223 457h15v1h-15zM1238 456h4v1h-4zM1242 455h8v1h-8zM1250 454h7v1h-7z" fill="#0000ff" shape-rendering="crispEdges"/>
<path d="M4 126h2v1h-2zM6 127h4v1h-4zM10 128h11v1h-11zM21 127h2v1h-2zM23 126h3v1h-3zM26 125h4v1h-4zM30 124h3v1h-3zM33 123h2v1h-2zM35 122h2v1h-2zM37 121h2v1h-2zM39 120h3v1h-3zM42 119h7v1h-7zM49 118h2v1h-2zM51 117h2v1h-2zM53 116h1v1h-1zM54 115h2v1h-2zM56 114h1v1h-1zM57 113h1v1h-1zM58 112h2v1h-2zM60 111h1v1h-1zM61 110h2v1h-2zM63 109h3v1h-3zM66 108h4v1h-4zM70 107h16v1h-16zM86 106h4v1h-4zM90 105h4v1h-4zM94 104h3v1h-3zM97 103h2v1h-2zM99 102h2v1h-2zM101 101h2v1h-2zM103 100h3v1h-3zM106 99h8v1h-8zM114 98h4v1h-4zM118 97h4v1h-4zM122 96h4v1h-4zM126 95h3v1h-3zM129 94h2v1h-2zM131 93h2v1h-2zM133 92h2v1h-2zM135 91h2v1h-2zM137 90h2v1h-2zM139 89h3v1h-3zM142 88h3v1h-3zM145 87h2v1h-2zM147 86h3v1h-3zM150 85h19v1h-19zM169 86h1v1h-1zM170 87h2v1h-2zM172 88h1v1h-1zM173 89h1v1h-1zM174 90h2v1h-2zM176 91h1v1h-1zM177 92h2v1h-2zM179 93h2v1h-2zM181 94h1v1h-1zM182 95h1v1h-1zM183 96h1v1h-1zM184 97h1v1h-1zM185 98h1v1h-1zM186 99h1v1h-1zM187 100h1v1h-1zM188 101h1v1h-1zM189 102h1v1h-1zM190 103h2v1h-2zM192 104h1v1h-1zM193 105h1v1h-1zM194 106h2v1h-2zM196 107h1v1h-1zM197 108h1v1h-1zM198 109h2v1h-2zM200 110h1v1h-1zM201 111h1v1h-1zM202 112h2v1h-2zM204 113h1v1h-1zM205 114h1v1h-1zM206 115h2v1h-2zM208 116h1v1h-1zM209 117h2v1h-2zM211 118h3v1h-3zM214 119h3v1h-3zM217 120h2v1h-2zM219 121h3v1h-3zM222 122h3v1h-3zM225 123h2v1h-2zM227 124h2v1h-2zM229 125h2v1h-2zM231 126h3v1h-3zM234 127h4v1h-4zM238 126h4v1h-4zM242 125h4v1h-4zM246 124h12v1h-12zM258 125h8v1h-8zM266 126h4v1h-4zM270 127h3v1h-3zM273 128h2v1h-2zM275 129h2v1h-2zM277 130h1v1h-1zM278 131h1v1h-1zM279 132h1v1h-1zM280 133h1v1h-1zM281 134h1v1h-1zM282 135h2v1h-2zM284 136h1v1h-1zM285 137h1v1h-1zM286 138h2v1h-2zM288 139h1v1h-1zM289 140h1v1h-1zM290 141h1v1h-1zM291 142h1v1h-1zM292 143h1v1h-1zM293 144h1v1h-1zM294 145h2v1h-2zM296 146h1v1h-1zM297 147h1v1h-1zM298 148h2v1h-2zM300 149h1v1h-1zM301 150h2v1h-2zM303 151h2v1h-2zM305 152h1v1h-1zM306 153h2v1h-2zM308 154h1v1h-1zM309 155h1v1h-1zM310 156h2v1h-2zM312 157h1v1h-1zM313 158h1v1h-1zM314 159h1v1h-1zM315 160h1v1h-1zM316 161h1v1h-1zM317 162h1v1h-1zM318 163h1v1h-1zM319 164h1v1h-1zM320 165h1v1h-1zM321 166h1v1h-1zM322 167h2v1h-2zM324 168h1v1h-1zM325 169h1v1h-1zM326 170h2v1h-2zM328 171h2v1h-2zM330 172h4v1h-4zM334 171h32v1h-32zM366 172h8v1h-8zM374 173h3v1h-3zM377 174h2v1h-2zM379 175h2v1h-2zM381 176h2v1h-2zM383 177h2v1h-2zM385 178h2v1h-2zM387 179h2v1h-2zM389 180h2v1h-2zM391 181h2v1h-2zM393 182h2v1h-2zM395 183h2v1h-2zM397 184h2v1h-2zM399 185h2v1h-2zM401 186h1v1h-1zM402 187h2v1h-2zM404 188h1v1h-1zM405 189h1v1h-1zM406 190h2v1h-2zM408 191h1v1h-1zM409 192h1v1h-1zM410 193h2v1h-2zM412 194h1v1h-1zM413 195h1v1h-1zM414 196h2v1h-2zM416 197h1v1h-1zM417 198h1v1h-1zM418 199h2v1h-2zM420 200h1v1h-1zM421 201h1v1h-1zM422 202h2v1h-2zM424 203h1v1h-1zM425 204h1v1h-1zM426 205h2v1h-2zM428 206h1v1h-1zM429 207h2v1h-2zM431 208h3v1h-3zM434 209h7v1h-7zM441 210h1v1h-1zM442 211h2v1h-2zM444 212h1v1h-1zM445 213h1v1h-1zM446 214h2v1h-2zM448 215h1v1h-1zM449 216h1v1h-1zM450 217h2v1h-2zM452 218h1v1h-1zM453 219h1v1h-1zM454 220h2v1h-2zM456 221h1v1h-1zM457 222h1v1h-1zM458 223h2v1h-2zM460 224h1v1h-1zM461 225h1v1h-1zM462 226h1v1h-1zM463 227h1v1h-1zM464 228h1v1h-1zM465 229h1v1h-1zM466 230h1v2h-1zM467 232h1v1h-1zM468 233h1v1h-1zM469 234h1v1h-1zM470 235h1v2h-1zM471 237h1v1h-1zM472 238h1v1h-1zM473 239h1v1h-1zM474 240h2v1h-2zM476 241h1v1h-1zM477 242h1v1h-1zM478 243h2v1h-2zM480 244h1v1h-1zM481 245h1v1h-1zM482 246h1v1h-1zM483 247h1v1h-1zM484 248h1v1h-1zM485 249h1v1h-1zM486 250h2v1h-2zM488 251h1v1h-1zM489 252h2v1h-2zM491 253h2v1h-2zM493 254h1v1h-1zM494 255h2v1h-2zM496 256h1v1h-1zM497 257h1v1h-1zM498 258h2v1h-2zM500 259h1v1h-1zM501 260h2v1h-2zM503 261h2v1h-2zM505 262h1v1h-1zM506 263h2v1h-2zM508 264h1v1h-1zM509 265h2v1h-2zM511 266h2v1h-2zM513 267h1v1h-1zM514 268h2v1h-2zM516 269h1v1h-1zM517 270h1v1h-1zM518 271h2v1h-2zM520 272h1v1h-1zM521 273h1v1h-1zM522 274h1v1h-1zM523 275h1v1h-1zM524 276h1v1h-1zM525 277h1v1h-1zM526 278h2v1h-2zM528 279h1v1h-1zM529 280h1v1h-1zM530 281h2v1h-2zM532 282h1v1h-1zM533 283h1v1h-1zM534 284h2v1h-2zM536 285h1v1h-1zM537 286h1v1h-1zM538 287h2v1h-2zM540 288h1v1h-1zM541 289h2v1h-2zM543 290h2v1h-2zM545 291h2v1h-2zM547 292h7v1h-7zM554 293h8v1h-8zM562 294h8v1h-8zM570 295h4v1h-4zM574 296h8v1h-8zM582 297h4v1h-4zM586 298h3v1h-3zM589 299h1v1h-1zM590 300h2v1h-2zM592 301h1v1h-1zM593 302h2v1h-2zM595 303h2v1h-2zM597 304h1v1h-1zM598 305h2v1h-2zM600 306h1v1h-1zM601 307h1v2h-1zM602 309h1v1h-1zM603 310h1v2h-1zM604 312h1v1h-1zM605 313h1v1h-1zM606 314h1v2h-1zM607 316h1v1h-1zM608 317h1v1h-1zM609 318h1v1h-1zM610 319h1v2h-1zM611 321h1v1h-1zM612 322h1v1h-1zM613 323h1v1h-1zM614 324h1v2h-1zM615 326h1v1h-1zM616 327h1v1h-1zM617 328h1v1h-1zM618 329h1v1h-1zM619 330h1v1h-1zM620 331h1v1h-1zM621 332h1v1h-1zM622 333h1v1h-1zM623 334h1v1h-1zM624 335h1v1h-1zM625 336h1v1h-1zM626 337h1v1h-1zM627 338h1v1h-1zM628 339h1v1h-1zM629 340h1v1h-1zM630 341h1v1h-1zM631 342h1v1h-1zM632 343h1v1h-1zM633 344h1v1h-1zM634 345h2v1h-2zM636 346h1v1h-1zM637 347h1v1h-1zM638 348h1v1h-1zM639 349h1v1h-1zM640 350h1v1h-1zM641 351h1v1h-1zM642 352h2v1h-2zM644 353h1v1h-1zM645 354h1v1h-1zM646 355h2v1h-2zM648 356h1v1h-1zM649 357h1v1h-1zM650 358h2v1h-2zM652 359h1v1h-1zM653 360h2v1h-2zM655 361h3v1h-3zM658 362h20v1h-20zM678 363h7v1h-7zM685 364h2v1h-2zM687 365h2v1h-2zM689 366h2v1h-2zM691 367h2v1h-2zM693 368h2v1h-2zM695 369h2v1h-2zM697 370h2v1h-2zM699 371h2v1h-2zM701 372h1v1h-1zM702 373h2v1h-2zM704 374h1v1h-1zM705 375h2v1h-2zM707 376h2v1h-2zM709 377h1v1h-1zM710 378h1v1h-1zM711 379h1v1h-1zM712 380h1v1h-1zM713 381h1v1h-1zM714 382h1v1h-1zM715 383h1v1h-1zM716 384h1v1h-1zM717 385h1v1h-1zM718 386h1v2h-1zM719 388h1v1h-1zM720 389h1v1h-1zM721 390h1v1h-1zM722 391h1v1h-1zM723 392h1v1h-1zM724 393h1v1h-1zM725 394h1v1h-1zM726 395h1v2h-1zM727 397h1v1h-1zM728 398h1v1h-1zM729 399h1v1h-1zM730 400h1v2h-1zM731 402h1v1h-1zM732 403h1v1h-1zM733 404h1v1h-1zM734 405h1v2h-1zM735 407h1v1h-1zM736 408h1v1h-1zM737 409h1v2h-1zM738 411h1v1h-1zM739 412h1v2h-1zM740 414h1v1h-1zM741 415h1v1h-1zM742 416h2v1h-2zM744 417h1v1h-1zM745 418h1v1h-1zM746 419h1v1h-1zM747 420h1v1h-1zM748 421h1v1h-1zM749 422h2v1h-2zM751 423h2v1h-2zM753 424h2v1h-2zM755 425h3v1h-3zM758 426h4v1h-4zM762 427h3v1h-3zM765 428h2v1h-2zM767 429h3v1h-3zM770 430h4v1h-4zM774 431h3v1h-3zM777 432h2v1h-2zM779 433h2v1h-2zM781 434h2v1h-2zM783 435h3v1h-3zM786 436h3v1h-3zM789 437h2v1h-2zM791 438h3v1h-3zM794 439h3v1h-3zM797 440h2v1h-2zM799 441h2v1h-2zM801 442h2v1h-2zM803 443h3v1h-3zM806 444h3v1h-3zM809 445h2v1h-2zM811 446h2v1h-2zM813 447h2v1h-2zM815 448h2v1h-2zM817 449h2v1h-2zM819 450h2v1h-2zM821 451h2v1h-2zM823 452h3v1h-3zM826 453h3v1h-3zM829 454h2v1h-2zM831 455h2v1h-2zM833 456h2v1h-2zM835 457h2v1h-2zM837 458h2v1h-2zM839 459h2v1h-2zM841 460h1v1h-1zM842 461h2v1h-2zM844 462h29v1h-29zM873 463h2v1h-2zM875 464h2v1h-2zM877 465h2v1h-2zM879 466h3v1h-3zM882 467h11v1h-11zM893 468h1v1h-1zM894 469h2v1h-2zM896 470h1v1h-1zM897 471h1v1h-1zM898 472h2v1h-2zM900 473h1v1h-1zM901 474h1v1h-1zM902 475h2v1h-2zM904 476h1v1h-1zM905 477h1v1h-1zM906 478h2v1h-2zM908 479h1v1h-1zM909 480h1v1h-1zM910 481h2v1h-2zM912 482h1v1h-1zM913 483h1v1h-1zM914 484h2v1h-2zM916 485h1v1h-1zM917 486h2v1h-2zM919 487h2v1h-2zM921 488h1v1h-1zM922 489h2v1h-2zM924 490h1v1h-1zM925 491h1v1h-1zM926 492h2v1h-2zM928 493h2v1h-2zM930 494h4v1h-4zM934 495h4v1h-4zM938 496h4v1h-4zM942 497h4v1h-4zM946 498h8v1h-8zM954 497h3v1h-3zM957 496h1v1h-1zM958 495h2v1h-2zM960 494h1v1h-1zM961 493h2v1h-2zM963 492h3v1h-3zM966 491h8v1h-8zM974 490h8v1h-8zM982 491h3v1h-3zM985 492h2v1h-2zM987 493h3v1h-3zM990 494h8v1h-8zM998 495h12v1h-12zM1010 496h4v1h-4zM1014 497h3v1h-3zM1017 498h2v1h-2zM1019 499h2v1h-2zM1021 500h1v1h-1zM1022 501h2v1h-2zM1024 502h1v1h-1zM1025 503h2v1h-2zM1027 504h2v1h-2zM1029 505h1v1h-1zM1030 506h2v1h-2zM1032 507h1v1h-1zM1033 508h2v1h-2zM1035 509h2v1h-2zM1037 510h2v1h-2zM1039 511h2v1h-2zM1041 512h2v1h-2zM1043 513h2v1h-2zM1045 514h2v1h-2zM1047 515h3v1h-3zM1050 516h19v1h-19zM1069 515h2v1h-2zM1071 514h2v1h-2zM1073 513h2v1h-2zM1075 512h2v1h-2zM1077 511h2v1h-2zM1079 510h2v1h-2zM1081 509h2v1h-2zM1083 508h2v1h-2zM1085 507h1v1h-1zM1086 506h2v1h-2zM1088 505h1v1h-1zM1089 504h2v1h-2zM1091 503h2v1h-2zM1093 502h1v1h-1zM1094 501h2v1h-2zM1096 500h1v1h-1zM1097 499h2v1h-2zM1099 498h2v1h-2zM1101 497h1v1h-1zM1102 496h2v1h-2zM1104 495h1v1h-1zM1105 494h1v1h-1zM1106 493h2v1h-2zM1108 492h1v1h-1zM1109 491h1v1h-1zM1110 490h2v1h-2zM1112 489h1v1h-1zM1113 488h1v1h-1zM1114 487h2v1h-2zM1116 486h2v1h-2zM1118 485h4v1h-4zM1122 484h4v1h-4zM1126 483h3v1h-3zM1129 482h2v1h-2zM1131 481h2v1h-2zM1133 480h2v1h-2zM1135 479h3v1h-3zM1138 478h4v1h-4zM1142 477h4v1h-4zM1146 476h4v1h-4zM1150 475h3v1h-3zM1153 474h2v1h-2zM1155 473h3v1h-3zM1158 472h4v1h-4zM1162 473h4v1h-4zM1166 474h3v1h-3zM1169 473h2v1h-2zM1171 472h3v1h-3zM1174 471h3v1h-3zM1177 470h1v1h-1zM1178 469h2v1h-2zM1180 468h1v1h-1zM1181 467h2v1h-2zM1183 466h2v1h-2zM1185 465h1v1h-1zM1186 464h1v1h-1zM1187 463h1v1h-1zM1188 462h1v1h-1zM1189 461h1v1h-1zM1190 460h2v1h-2zM1192 459h1v1h-1zM1193 458h1v1h-1zM1194 457h2v1h-2zM1196 456h1v1h-1zM1197 455h1v1h-1zM1198 454h2v1h-2zM1200 453h1v1h-1zM1201 452h1v1h-1zM1202 451h2v1h-2zM1204 450h1v1h-1zM1205 449h2v1h-2zM1207 448h3v1h-3zM1210 447h3v1h-3zM1213 446h2v1h-2zM1215 445h3v1h-3zM1218 444h3v1h-3zM1221 443h2v1h-2zM1223 442h3v1h-3zM1226 441h12v1h-12zM1238 442h3v1h-3zM1241 443h1v1h-1zM1242 444h2v1h-2zM1244 445h1v1h-1zM1245 446h2v1h-2zM1247 447h2v1h-2zM1249 448h2v1h-2zM1251 449h3v1h-3zM1254 450h3v1h-3z" fill="#ff0000" shape-rendering="crispEdges"/>
<path d="M4 130h2v1h-2zM6 129h3v1h-3zM9 128h2v1h-2zM11 127h2v1h-2zM13 126h1v1h-1zM14 124h1v2h-1zM15 123h1v1h-1zM16 122h1v1h-1zM17 121h1v1h-1zM18 120h1v1h-1zM19 119h1v1h-1zM20 118h2v1h-2zM22 117h3v1h-3zM25 116h1v1h-1zM26 115h2v1h-2zM28 114h2v1h-2zM30 113h4v1h-4zM34 114h3v1h-3zM37 115h2v1h-2zM39 116h3v1h-3zM42 117h3v1h-3zM45 118h1v1h-1zM46 119h2v1h-2zM48 120h1v1h-1zM49 118h1v2h-1zM50 117h1v1h-1zM51 115h1v2h-1zM52 114h1v1h-1zM53 113h1v1h-1zM54 111h1v2h-1zM55 110h1v1h-1zM56 109h1v1h-1zM57 107h1v2h-1zM58 106h1v1h-1zM59 104h1v2h-1zM60 103h1v1h-1zM61 102h1v1h-1zM62 101h1v1h-1zM63 100h1v1h-1zM64 99h1v1h-1zM65 97h1v2h-1zM66 95h1v2h-1zM67 93h1v2h-1zM68 92h1v1h-1zM69 93h1v1h-1zM70 94h1v2h-1zM71 96h1v1h-1zM72 97h1v1h-1zM73 98h1v2h-1zM74 100h1v1h-1zM75 101h1v2h-1zM76 103h1v1h-1zM77 104h1v1h-1zM78 105h1v1h-1zM79 106h1v1h-1zM80 107h2v1h-2zM82 108h3v1h-3zM85 109h1v1h-1zM86 110h1v1h-1zM87 111h1v1h-1zM88 112h1v1h-1zM89 111h2v1h-2zM91 110h2v1h-2zM93 109h1v1h-1zM94 108h1v1h-1zM95 107h1v1h-1zM96 106h1v1h-1zM97 105h1v1h-1zM98 103h1v2h-1zM99 102h1v1h-1zM100 101h1v1h-1zM101 100h2v1h-2zM103 99h2v1h-2zM105 98h1v1h-1zM106 97h2v1h-2zM108 96h5v1h-5zM113 97h2v1h-2zM115 98h3v1h-3zM118 99h3v1h-3zM121 98h2v1h-2zM123 97h2v1h-2zM125 96h1v1h-1zM126 95h2v1h-2zM128 94h1v1h-1zM129 93h1v1h-1zM130 91h1v2h-1zM131 90h1v1h-1zM132 89h1v1h-1zM133 88h1v1h-1zM134 86h1v2h-1zM135 85h1v1h-1zM136 84h1v1h-1zM137 82h1v2h-1zM138 80h1v2h-1zM139 78h1v2h-1zM140 77h1v1h-1zM140 76h2v1h-2zM142 75h3v1h-3zM145 74h2v1h-2zM147 73h3v1h-3zM150 72h4v1h-4zM154 73h3v1h-3zM156 74h1v1h-1zM157 75h1v2h-1zM158 77h1v3h-1zM159 80h1v2h-1zM160 82h1v2h-1zM161 84h1v1h-1zM162 85h1v2h-1zM163 87h1v1h-1zM164 88h1v1h-1zM165 89h1v2h-1zM166 91h1v1h-1zM167 92h1v2h-1zM168 94h1v2h-1zM169 96h1v2h-1zM170 98h1v3h-1zM171 101h1v2h-1zM172 103h1v2h-1zM173 105h1v2h-1zM174 107h1v2h-1zM175 109h1v2h-1zM176 111h1v2h-1zM177 113h1v2h-1zM178 115h1v1h-1zM179 116h1v2h-1zM180 118h1v1h-1zM181 119h1v1h-1zM182 120h1v2h-1zM183 122h1v1h-1zM184 123h1v1h-1zM185 124h1v2h-1zM186 126h1v2h-1zM187 128h1v2h-1zM188 130h1v1h-1zM188 131h2v1h-2zM190 130h7v1h-7zM197 129h1v1h-1zM198 128h2v1h-2zM200 127h2v1h-2zM202 126h3v1h-3zM205 125h1v1h-1zM206 124h1v1h-1zM207 123h1v1h-1zM208 122h2v1h-2zM210 121h8v1h-8zM218 122h7v1h-7zM225 123h1v1h-1zM226 124h1v1h-1zM227 125h1v1h-1zM228 126h1v1h-1zM229 127h1v1h-1zM230 128h2v1h-2zM232 129h2v1h-2zM234 130h4v1h-4zM238 129h4v1h-4zM242 128h3v1h-3zM245 127h1v1h-1zM246 126h1v1h-1zM247 125h1v1h-1zM248 124h1v1h-1zM249 123h1v1h-1zM250 122h2v1h-2zM252 121h2v1h-2zM254 122h3v1h-3zM257 123h2v1h-2zM259 124h2v1h-2zM261 125h2v1h-2zM263 126h2v1h-2zM265 127h1v1h-1zM266 128h2v1h-2zM268 129h2v1h-2zM270 130h3v1h-3zM273 131h1v2h-1zM274 133h1v1h-1zM275 134h1v2h-1zM276 136h1v1h-1zM277 137h1v2h-1zM278 139h1v2h-1zM279 141h1v2h-1zM280 143h1v2h-1zM281 145h1v2h-1zM282 147h1v2h-1zM283 149h1v2h-1zM284 151h1v3h-1zM285 154h1v2h-1zM286 156h1v2h-1zM287 158h1v2h-1zM288 160h1v2h-1zM289 162h1v2h-1zM290 164h1v2h-1zM291 166h1v2h-1zM292 168h2v1h-2zM294 169h4v1h-4zM298 170h4v1h-4zM302 169h4v1h-4zM306 170h3v1h-3zM309 171h1v1h-1zM310 172h2v1h-2zM312 173h1v1h-1zM313 174h2v1h-2zM315 175h3v1h-3zM318 176h3v1h-3zM321 177h2v1h-2zM323 178h3v1h-3zM326 179h3v1h-3zM329 178h2v1h-2zM331 177h6v1h-6zM337 176h1v1h-1zM338 174h1v2h-1zM339 173h1v1h-1zM340 172h1v1h-1zM341 171h1v1h-1zM342 170h1v1h-1zM343 169h1v1h-1zM344 168h1v1h-1zM345 167h1v1h-1zM346 166h2v1h-2zM348 165h6v1h-6zM354 164h3v1h-3zM357 165h2v1h-2zM359 166h2v1h-2zM361 167h1v1h-1zM362 168h1v2h-1zM363 170h1v1h-1zM364 171h1v1h-1zM365 172h2v1h-2zM367 173h2v1h-2zM369 174h1v1h-1zM370 175h2v1h-2zM372 176h1v1h-1zM373 177h1v1h-1zM374 178h2v1h-2zM376 179h1v2h-1zM377 181h1v2h-1zM378 183h1v2h-1zM379 185h1v2h-1zM380 187h1v2h-1zM381 189h1v1h-1zM382 190h1v1h-1zM383 191h1v1h-1zM384 192h1v1h-1zM385 193h2v1h-2zM387 194h2v1h-2zM389 195h2v1h-2zM391 196h2v1h-2zM393 197h2v1h-2zM395 198h6v1h-6zM401 199h2v1h-2zM403 200h2v1h-2zM405 201h2v1h-2zM407 202h2v1h-2zM409 203h1v1h-1zM410 204h1v1h-1zM411 205h1v1h-1zM412 206h1v1h-1zM413 207h2v1h-2zM415 208h3v1h-3zM418 209h3v1h-3zM421 210h1v1h-1zM422 211h2v1h-2zM424 212h1v1h-1zM425 213h1v1h-1zM426 214h1v1h-1zM427 215h1v1h-1zM428 216h1v1h-1zM429 217h1v1h-1zM430 218h1v1h-1zM431 219h1v1h-1zM432 220h1v1h-1zM433 221h1v1h-1zM434 222h2v1h-2zM436 223h2v1h-2zM438 224h11v1h-11zM449 225h1v1h-1zM450 226h2v1h-2zM452 227h1v1h-1zM453 228h1v1h-1zM454 229h1v2h-1zM455 231h1v1h-1zM456 232h1v1h-1zM457 233h1v2h-1zM458 235h1v2h-1zM459 237h1v2h-1zM460 239h1v1h-1zM461 240h1v2h-1zM462 242h1v1h-1zM463 243h1v2h-1zM464 245h1v1h-1zM465 246h1v2h-1zM466 248h1v2h-1zM467 250h1v2h-1zM468 252h1v2h-1zM469 254h1v2h-1zM470 256h1v1h-1zM471 257h1v2h-1zM472 259h1v1h-1zM473 260h1v2h-1zM474 262h1v1h-1zM475 263h1v2h-1zM476 265h1v1h-1zM477 266h2v1h-2zM479 267h2v1h-2zM481 268h2v1h-2zM483 269h2v1h-2zM485 270h2v1h-2zM487 271h3v1h-3zM490 270h3v1h-3zM493 269h2v1h-2zM495 268h2v1h-2zM497 269h2v1h-2zM499 270h3v1h-3zM502 271h11v1h-11zM513 272h1v2h-1zM514 274h1v1h-1zM515 275h1v2h-1zM516 277h1v1h-1zM517 278h1v2h-1zM518 280h1v1h-1zM519 281h1v2h-1zM520 283h1v2h-1zM521 285h1v2h-1zM522 287h1v3h-1zM523 290h1v2h-1zM524 292h1v3h-1zM525 295h1v2h-1zM526 297h1v2h-1zM527 299h1v2h-1zM528 301h1v2h-1zM529 303h1v2h-1zM530 305h1v2h-1zM531 307h1v2h-1zM532 309h1v2h-1zM533 311h1v1h-1zM534 312h2v1h-2zM536 313h1v1h-1zM537 312h1v1h-1zM538 311h2v1h-2zM540 310h1v1h-1zM541 309h1v1h-1zM542 308h1v1h-1zM543 307h1v1h-1zM544 306h1v1h-1zM545 304h1v2h-1zM546 302h1v2h-1zM547 300h1v2h-1zM548 299h1v1h-1zM549 297h1v2h-1zM550 295h1v2h-1zM551 293h1v2h-1zM552 291h1v2h-1zM553 289h1v2h-1zM554 288h1v1h-1zM555 286h1v2h-1zM556 285h1v1h-1zM557 284h1v1h-1zM558 283h2v1h-2zM560 282h1v1h-1zM561 281h1v1h-1zM562 280h1v1h-1zM563 279h1v1h-1zM564 278h2v1h-2zM566 277h3v1h-3zM569 278h1v2h-1zM570 280h1v1h-1zM571 281h1v2h-1zM572 283h1v2h-1zM573 285h1v3h-1zM574 288h1v2h-1zM575 290h1v3h-1zM576 293h1v3h-1zM577 296h1v2h-1zM578 298h1v2h-1zM579 300h1v2h-1zM580 302h1v2h-1zM581 304h1v2h-1zM582 306h1v2h-1zM583 308h1v2h-1zM584 310h1v2h-1zM585 312h1v3h-1zM586 315h1v4h-1zM587 319h1v3h-1zM588 322h1v2h-1zM589 324h1v2h-1zM590 326h1v1h-1zM591 327h1v2h-1zM592 329h1v1h-1zM593 330h2v1h-2zM595 331h2v1h-2zM597 332h1v1h-1zM598 333h2v1h-2zM600 334h1v1h-1zM601 335h1v2h-1zM602 337h1v2h-1zM603 339h1v2h-1zM604 341h1v2h-1zM605 343h1v1h-1zM606 344h1v1h-1zM607 345h1v1h-1zM608 346h2v1h-2zM610 345h4v1h-4zM614 344h3v1h-3zM617 345h1v1h-1zM618 346h2v1h-2zM620 347h1v1h-1zM621 346h1v1h-1zM622 345h1v1h-1zM623 344h1v1h-1zM624 343h5v1h-5zM629 344h1v2h-1zM630 346h1v1h-1zM631 347h1v2h-1zM632 349h1v1h-1zM633 350h1v2h-1zM634 352h1v2h-1zM635 354h1v2h-1zM636 356h1v2h-1zM637 358h1v2h-1zM638 360h1v1h-1zM639 361h1v2h-1zM640 363h1v2h-1zM641 365h1v2h-1zM642 367h1v3h-1zM643 370h1v2h-1zM644 372h1v2h-1zM645 374h2v1h-2zM647 375h2v1h-2zM649 376h1v1h-1zM650 377h1v1h-1zM651 378h1v1h-1zM652 379h5v1h-5zM657 378h1v1h-1zM658 376h1v2h-1zM659 375h1v1h-1zM660 374h1v1h-1zM661 372h1v2h-1zM662 370h1v2h-1zM663 368h1v2h-1zM664 366h1v2h-1zM665 364h1v2h-1zM666 362h1v2h-1zM667 360h1v2h-1zM668 359h1v1h-1zM669 357h1v2h-1zM670 356h1v1h-1zM671 354h1v2h-1zM672 353h1v1h-1zM673 352h1v1h-1zM674 351h1v1h-1zM675 350h1v1h-1zM676 349h1v1h-1zM677 350h2v1h-2zM679 351h2v1h-2zM681 352h2v1h-2zM683 353h2v1h-2zM685 354h1v2h-1zM686 356h1v1h-1zM687 357h1v2h-1zM688 359h1v2h-1zM689 361h1v2h-1zM690 363h1v2h-1zM691 365h1v2h-1zM692 367h1v3h-1zM693 370h1v2h-1zM694 372h1v3h-1zM695 375h1v2h-1zM696 377h1v3h-1zM697 380h1v3h-1zM698 383h1v3h-1zM699 386h1v3h-1zM700 389h1v3h-1zM701 392h1v3h-1zM702 395h1v4h-1zM703 399h1v3h-1zM704 402h1v2h-1zM705 404h1v2h-1zM706 406h1v2h-1zM707 408h1v2h-1zM708 410h1v1h-1zM709 411h1v1h-1zM710 412h1v1h-1zM711 413h1v1h-1zM712 414h2v1h-2zM714 413h3v1h-3zM717 412h2v1h-2zM719 411h2v1h-2zM721 410h1v1h-1zM722 409h2v1h-2zM724 408h1v1h-1zM725 409h1v1h-1zM726 410h2v1h-2zM728 411h1v1h-1zM729 412h1v1h-1zM730 413h1v2h-1zM731 415h1v1h-1zM732 416h1v1h-1zM733 417h1v2h-1zM734 419h1v2h-1zM735 421h1v2h-1zM736 423h1v2h-1zM737 425h1v1h-1zM738 426h1v2h-1zM739 428h1v1h-1zM740 429h1v1h-1zM741 430h1v1h-1zM742 431h1v1h-1zM743 432h1v1h-1zM744 433h1v1h-1zM745 434h1v2h-1zM746 436h1v1h-1zM747 437h1v2h-1zM748 439h1v1h-1zM749 440h2v1h-2zM751 441h2v1h-2zM753 440h1v1h-1zM754 439h2v1h-2zM756 438h1v1h-1zM757 437h1v1h-1zM758 436h1v1h-1zM759 435h1v1h-1zM760 434h2v1h-2zM762 435h3v1h-3zM765 434h2v1h-2zM767 433h2v1h-2zM769 432h2v1h-2zM771 431h2v1h-2zM773 432h2v1h-2zM775 433h3v1h-3zM778 434h4v1h-4zM782 435h3v1h-3zM785 436h2v1h-2zM787 437h2v1h-2zM789 438h1v1h-1zM790 439h1v2h-1zM791 441h1v1h-1zM792 442h1v1h-1zM793 443h1v2h-1zM794 445h1v2h-1zM795 447h1v2h-1zM796 449h1v1h-1zM797 450h1v2h-1zM798 452h1v2h-1zM799 454h1v2h-1zM800 456h1v2h-1zM801 458h1v1h-1zM802 459h1v2h-1zM803 461h1v1h-1zM804 462h1v1h-1zM805 463h1v1h-1zM806 464h1v1h-1zM807 465h1v1h-1zM808 466h1v1h-1zM809 467h2v1h-2zM811 468h2v1h-2zM813 467h1v1h-1zM814 466h1v1h-1zM815 465h1v1h-1zM816 464h1v1h-1zM817 463h1v1h-1zM818 462h2v1h-2zM820 461h1v1h-1zM821 460h2v1h-2zM823 459h2v1h-2zM825 458h2v1h-2zM827 457h6v1h-6zM833 458h1v1h-1zM834 459h1v1h-1zM835 460h1v1h-1zM836 461h1v1h-1zM837 462h2v1h-2zM839 463h2v1h-2zM841 464h2v1h-2zM843 465h2v1h-2zM845 466h2v1h-2zM847 467h2v1h-2zM849 466h2v1h-2zM851 465h2v1h-2zM853 464h1v1h-1zM854 463h1v1h-1zM855 462h1v1h-1zM856 461h2v1h-2zM858 460h12v1h-12zM870 461h3v1h-3zM873 462h2v1h-2zM875 463h2v1h-2zM877 464h1v1h-1zM878 465h1v1h-1zM879 466h1v1h-1zM880 467h1v1h-1zM881 468h2v1h-2zM883 469h2v1h-2zM885 470h2v1h-2zM887 471h2v1h-2zM889 472h1v1h-1zM890 473h1v1h-1zM891 474h1v1h-1zM892 475h1v2h-1zM893 477h1v2h-1zM894 479h1v2h-1zM895 481h1v2h-1zM896 483h1v2h-1zM897 485h1v2h-1zM898 487h1v2h-1zM899 489h1v2h-1zM900 491h1v1h-1zM901 492h1v1h-1zM902 493h1v2h-1zM903 495h1v1h-1zM904 496h1v1h-1zM905 497h1v1h-1zM906 498h1v1h-1zM907 499h1v1h-1zM908 500h1v1h-1zM909 501h1v2h-1zM910 503h1v1h-1zM911 504h1v2h-1zM912 506h1v1h-1zM913 505h2v1h-2zM915 504h2v1h-2zM917 503h1v1h-1zM918 501h1v2h-1zM919 500h1v1h-1zM920 499h6v1h-6zM926 500h3v1h-3zM929 499h2v1h-2zM931 498h2v1h-2zM933 497h1v1h-1zM934 496h2v1h-2zM936 495h5v1h-5zM941 494h1v1h-1zM942 492h1v2h-1zM943 491h1v1h-1zM944 490h1v1h-1zM945 489h2v1h-2zM947 488h2v1h-2zM949 489h2v1h-2zM951 490h2v1h-2zM953 491h2v1h-2zM955 492h2v1h-2zM957 491h2v1h-2zM959 490h7v1h-7zM966 489h4v1h-4zM970 488h3v1h-3zM973 487h1v1h-1zM974 486h2v1h-2zM976 485h1v1h-1zM977 486h2v1h-2zM979 487h2v1h-2zM981 488h1v2h-1zM982 490h1v2h-1zM983 492h1v2h-1zM984 494h1v1h-1zM985 495h1v1h-1zM986 496h1v2h-1zM987 498h1v1h-1zM988 499h2v1h-2zM990 498h3v1h-3zM993 499h1v1h-1zM994 500h1v1h-1zM995 501h1v1h-1zM996 502h2v1h-2zM998 503h3v1h-3zM1001 502h1v1h-1zM1002 501h1v1h-1zM1003 500h1v1h-1zM1004 499h2v1h-2zM1006 498h3v1h-3zM1009 499h2v1h-2zM1011 500h2v1h-2zM1013 501h1v1h-1zM1014 502h2v1h-2zM1016 503h1v1h-1zM1017 504h1v1h-1zM1018 505h1v2h-1zM1019 507h1v1h-1zM1020 508h1v1h-1zM1021 509h1v2h-1zM1022 511h1v1h-1zM1023 512h1v2h-1zM1024 514h1v1h-1zM1025 515h1v1h-1zM1026 516h1v2h-1zM1027 518h1v1h-1zM1028 519h1v1h-1zM1029 520h1v1h-1zM1030 521h1v1h-1zM1031 522h1v1h-1zM1032 523h1v1h-1zM1033 524h1v1h-1zM1034 525h2v1h-2zM1036 526h1v1h-1zM1037 527h2v1h-2zM1039 528h3v1h-3zM1042 529h3v1h-3zM1045 528h1v1h-1zM1046 527h1v1h-1zM1047 526h1v1h-1zM1048 525h1v1h-1zM1049 523h1v2h-1zM1050 522h1v1h-1zM1051 520h1v2h-1zM1052 519h1v1h-1zM1053 518h1v1h-1zM1054 517h1v1h-1zM1055 516h1v1h-1zM1056 515h1v1h-1zM1057 513h1v2h-1zM1058 511h1v2h-1zM1059 509h1v2h-1zM1060 507h1v2h-1zM1061 505h1v2h-1zM1062 504h1v1h-1zM1063 502h1v2h-1zM1064 501h1v1h-1zM1065 500h2v1h-2zM1067 499h2v1h-2zM1069 500h2v1h-2zM1071 501h6v1h-6zM1077 500h2v1h-2zM1079 499h3v1h-3zM1082 498h3v1h-3zM1085 497h2v1h-2zM1087 496h2v1h-2zM1089 495h1v1h-1zM1090 494h2v1h-2zM1092 493h2v1h-2zM1094 492h4v1h-4zM1098 493h3v1h-3zM1101 492h1v1h-1zM1102 490h1v2h-1zM1103 489h1v1h-1zM1104 488h1v1h-1zM1105 487h1v1h-1zM1106 485h1v2h-1zM1107 484h1v1h-1zM1108 482h1v2h-1zM1109 480h1v2h-1zM1110 478h1v2h-1zM1111 476h1v2h-1zM1112 474h1v2h-1zM1113 472h1v2h-1zM1114 471h1v1h-1zM1115 469h1v2h-1zM1116 468h1v1h-1zM1117 467h1v1h-1zM1118 466h1v1h-1zM1119 465h1v1h-1zM1120 464h1v1h-1zM1121 465h1v1h-1zM1122 466h2v1h-2zM1124 467h2v1h-2zM1126 468h3v1h-3zM1129 469h1v2h-1zM1130 471h1v2h-1zM1131 473h1v2h-1zM1132 475h1v1h-1zM1133 476h2v1h-2zM1135 477h2v1h-2zM1137 478h2v1h-2zM1139 479h2v1h-2zM1141 478h2v1h-2zM1143 477h6v1h-6zM1149 476h2v1h-2zM1151 475h7v1h-7zM1158 474h7v1h-7zM1165 473h1v1h-1zM1166 472h2v1h-2zM1168 471h1v1h-1zM1169 470h1v1h-1zM1170 468h1v2h-1zM1171 467h1v1h-1zM1172 466h1v1h-1zM1173 465h1v1h-1zM1174 464h1v1h-1zM1175 463h1v1h-1zM1176 462h1v1h-1zM1177 461h1v1h-1zM1178 459h1v2h-1zM1179 458h1v1h-1zM1180 457h1v1h-1zM1181 455h1v2h-1zM1182 453h1v2h-1zM1183 451h1v2h-1zM1184 450h1v1h-1zM1185 448h1v2h-1zM1186 447h1v1h-1zM1187 445h1v2h-1zM1188 444h1v1h-1zM1189 443h2v1h-2zM1191 442h2v1h-2zM1193 441h1v1h-1zM1194 440h1v1h-1zM1195 439h1v1h-1zM1196 438h1v1h-1zM1197 437h1v1h-1zM1198 436h1v1h-1zM1199 435h1v1h-1zM1200 434h2v1h-2zM1202 435h3v1h-3zM1205 436h2v1h-2zM1207 437h2v1h-2zM1209 438h1v1h-1zM1210 439h2v1h-2zM1212 440h1v1h-1zM1213 441h1v1h-1zM1214 442h2v1h-2zM1216 443h1v1h-1zM1217 444h2v1h-2zM1219 445h3v1h-3zM1222 446h7v1h-7zM1229 445h2v1h-2zM1231 444h6v1h-6zM1237 445h1v1h-1zM1238 446h1v2h-1zM1239 448h1v1h-1zM1240 449h1v1h-1zM1241 450h1v1h-1zM1242 451h1v1h-1zM1243 452h1v1h-1zM1244 453h1v1h-1zM1245 454h1v1h-1zM1246 455h1v1h-1zM1247 456h1v1h-1zM1248 457h1v1h-1zM1249 458h1v1h-1zM1250 459h2v1h-2zM1252 460h1v1h-1zM1253 461h2v1h-2zM1255 462h2v1h-2z" fill="#ffa500" shape-rendering="crispEdges"/>
<g shape-rendering="crispEdges"><rect x="1582" y="456" width="41" height="11" fill="#000"/></g>
<text x="1586" y="464.7" font-size="9.2" fill="#fff" textLength="32.4" lengthAdjust="spacingAndGlyphs">6.52769</text>
<g shape-rendering="crispEdges">
<rect x="4" y="170" width="1576" height="2" fill="#ff0000"/>
<rect x="1582" y="165" width="41" height="11" fill="#ff0000"/>
</g>
<text x="1586.2" y="174.1" font-size="9.8" fill="#fff" stroke="#fff" stroke-width="0.2" textLength="32" lengthAdjust="spacingAndGlyphs">7.00029</text>
<g shape-rendering="crispEdges">
<rect x="4" y="238" width="1576" height="2" fill="#ff0000"/>
<rect x="1582" y="233" width="41" height="11" fill="#ff0000"/>
</g>
<text x="1586.2" y="242.1" font-size="9.8" fill="#fff" stroke="#fff" stroke-width="0.2" textLength="32" lengthAdjust="spacingAndGlyphs">6.88897</text>
<g shape-rendering="crispEdges">
<rect x="4" y="316" width="1576" height="2" fill="#ff0000"/>
<rect x="1582" y="311" width="41" height="11" fill="#ff0000"/>
</g>
<text x="1586.2" y="320.1" font-size="9.8" fill="#fff" stroke="#fff" stroke-width="0.2" textLength="32" lengthAdjust="spacingAndGlyphs">6.76157</text>
<g shape-rendering="crispEdges">
<rect x="4" y="399" width="1576" height="2" fill="#ff0000"/>
<rect x="1582" y="394" width="41" height="11" fill="#ff0000"/>
<rect x="4" y="397" width="6" height="6" fill="#ff0000"/><rect x="6" y="399" width="2" height="2" fill="#fff"/>
<rect x="1574" y="397" width="6" height="6" fill="#ff0000"/><rect x="1576" y="399" width="2" height="2" fill="#fff"/>
</g>
<text x="1586.2" y="403.1" font-size="9.8" fill="#fff" stroke="#fff" stroke-width="0.2" textLength="32" lengthAdjust="spacingAndGlyphs">6.62709</text>
<g shape-rendering="crispEdges">
<rect x="4" y="464" width="1576" height="2" fill="#00ff00"/>
<rect x="1582" y="459" width="41" height="11" fill="#00ff00"/>
<rect x="4" y="462" width="6" height="6" fill="#00ff00"/><rect x="6" y="464" width="2" height="2" fill="#fff"/>
<rect x="1574" y="462" width="6" height="6" fill="#00ff00"/><rect x="1576" y="464" width="2" height="2" fill="#fff"/>
</g>
<text x="1586.2" y="468.1" font-size="9.8" fill="#fff" stroke="#fff" stroke-width="0.2" textLength="32" lengthAdjust="spacingAndGlyphs">6.52138</text>
<g shape-rendering="crispEdges">
<rect x="4" y="538" width="1576" height="2" fill="#0000ff"/>
<rect x="1582" y="533" width="41" height="11" fill="#0000ff"/>
<rect x="4" y="536" width="6" height="6" fill="#0000ff"/><rect x="6" y="538" width="2" height="2" fill="#fff"/>
<rect x="1574" y="536" width="6" height="6" fill="#0000ff"/><rect x="1576" y="538" width="2" height="2" fill="#fff"/>
</g>
<text x="1586.2" y="542.1" font-size="9.8" fill="#fff" stroke="#fff" stroke-width="0.2" textLength="32" lengthAdjust="spacingAndGlyphs">6.40104</text>
<path d="M7 32 L14 32 L10.5 35.5Z" fill="#000"/>
<text x="19" y="36.8" font-size="10" fill="#000" stroke="#000" stroke-width="0.15" textLength="65.8" lengthAdjust="spacingAndGlyphs">USDCNH,Daily</text>
<text x="91" y="36.8" font-size="10" fill="#000" stroke="#000" stroke-width="0.15" textLength="32.7" lengthAdjust="spacingAndGlyphs">6.52751</text>
<text x="127" y="36.8" font-size="10" fill="#000" stroke="#000" stroke-width="0.15" textLength="32.7" lengthAdjust="spacingAndGlyphs">6.52960</text>
<text x="163" y="36.8" font-size="10" fill="#000" stroke="#000" stroke-width="0.15" textLength="32.7" lengthAdjust="spacingAndGlyphs">6.52637</text>
<text x="199" y="36.8" font-size="10" fill="#000" stroke="#000" stroke-width="0.15" textLength="32.7" lengthAdjust="spacingAndGlyphs">6.52769</text>
<g shape-rendering="crispEdges" fill="#c0c0c0">
<rect x="4" y="684" width="1" height="6"/>
<rect x="8" y="685" width="1" height="5"/>
<rect x="12" y="685" width="1" height="5"/>
<rect x="16" y="683" width="1" height="7"/>
<rect x="20" y="681" width="1" height="9"/>
<rect x="24" y="682" width="1" height="8"/>
<rect x="28" y="682" width="1" height="8"/>
<rect x="32" y="682" width="1" height="8"/>
<rect x="36" y="682" width="1" height="8"/>
<rect x="40" y="683" width="1" height="7"/>
<rect x="44" y="685" width="1" height="5"/>
<rect x="48" y="687" width="1" height="3"/>
<rect x="52" y="681" width="1" height="9"/>
<rect x="56" y="677" width="1" height="13"/>
<rect x="60" y="674" width="1" height="16"/>
<rect x="64" y="674" width="1" height="16"/>
<rect x="68" y="673" width="1" height="17"/>
<rect x="72" y="675" width="1" height="15"/>
<rect x="76" y="679" width="1" height="11"/>
<rect x="80" y="681" width="1" height="9"/>
<rect x="84" y="681" width="1" height="9"/>
<rect x="88" y="682" width="1" height="8"/>
<rect x="92" y="682" width="1" height="8"/>
<rect x="96" y="681" width="1" height="9"/>
<rect x="100" y="678" width="1" height="12"/>
<rect x="104" y="677" width="1" height="13"/>
<rect x="108" y="677" width="1" height="13"/>
<rect x="112" y="679" width="1" height="11"/>
<rect x="116" y="681" width="1" height="9"/>
<rect x="120" y="680" width="1" height="10"/>
<rect x="124" y="677" width="1" height="13"/>
<rect x="128" y="675" width="1" height="15"/>
<rect x="132" y="673" width="1" height="17"/>
<rect x="136" y="673" width="1" height="17"/>
<rect x="140" y="667" width="1" height="23"/>
<rect x="144" y="667" width="1" height="23"/>
<rect x="148" y="666" width="1" height="24"/>
<rect x="152" y="667" width="1" height="23"/>
<rect x="156" y="670" width="1" height="20"/>
<rect x="160" y="675" width="1" height="15"/>
<rect x="164" y="679" width="1" height="11"/>
<rect x="168" y="682" width="1" height="8"/>
<rect x="172" y="690" width="1" height="1"/>
<rect x="176" y="690" width="1" height="5"/>
<rect x="180" y="690" width="1" height="11"/>
<rect x="184" y="690" width="1" height="14"/>
<rect x="188" y="690" width="1" height="18"/>
<rect x="192" y="690" width="1" height="20"/>
<rect x="196" y="690" width="1" height="20"/>
<rect x="200" y="690" width="1" height="19"/>
<rect x="204" y="690" width="1" height="18"/>
<rect x="208" y="690" width="1" height="17"/>
<rect x="212" y="690" width="1" height="16"/>
<rect x="216" y="690" width="1" height="16"/>
<rect x="220" y="690" width="1" height="16"/>
<rect x="224" y="690" width="1" height="15"/>
<rect x="228" y="690" width="1" height="17"/>
<rect x="232" y="690" width="1" height="19"/>
<rect x="236" y="690" width="1" height="17"/>
<rect x="240" y="690" width="1" height="15"/>
<rect x="244" y="690" width="1" height="13"/>
<rect x="248" y="690" width="1" height="11"/>
<rect x="252" y="690" width="1" height="10"/>
<rect x="256" y="690" width="1" height="10"/>
<rect x="260" y="690" width="1" height="11"/>
<rect x="264" y="690" width="1" height="11"/>
<rect x="268" y="690" width="1" height="11"/>
<rect x="272" y="690" width="1" height="11"/>
<rect x="276" y="690" width="1" height="16"/>
<rect x="280" y="690" width="1" height="22"/>
<rect x="284" y="690" width="1" height="26"/>
<rect x="288" y="690" width="1" height="30"/>
<rect x="292" y="690" width="1" height="31"/>
<rect x="296" y="690" width="1" height="31"/>
<rect x="300" y="690" width="1" height="33"/>
<rect x="304" y="690" width="1" height="32"/>
<rect x="308" y="690" width="1" height="34"/>
<rect x="312" y="690" width="1" height="35"/>
<rect x="316" y="690" width="1" height="34"/>
<rect x="320" y="690" width="1" height="34"/>
<rect x="324" y="690" width="1" height="34"/>
<rect x="328" y="690" width="1" height="34"/>
<rect x="332" y="690" width="1" height="31"/>
<rect x="336" y="690" width="1" height="29"/>
<rect x="340" y="690" width="1" height="23"/>
<rect x="344" y="690" width="1" height="20"/>
<rect x="348" y="690" width="1" height="19"/>
<rect x="352" y="690" width="1" height="18"/>
<rect x="356" y="690" width="1" height="17"/>
<rect x="360" y="690" width="1" height="15"/>
<rect x="364" y="690" width="1" height="17"/>
<rect x="368" y="690" width="1" height="17"/>
<rect x="372" y="690" width="1" height="18"/>
<rect x="376" y="690" width="1" height="19"/>
<rect x="380" y="690" width="1" height="24"/>
<rect x="384" y="690" width="1" height="26"/>
<rect x="388" y="690" width="1" height="25"/>
<rect x="392" y="690" width="1" height="25"/>
<rect x="396" y="690" width="1" height="25"/>
<rect x="400" y="690" width="1" height="27"/>
<rect x="404" y="690" width="1" height="29"/>
<rect x="408" y="690" width="1" height="28"/>
<rect x="412" y="690" width="1" height="29"/>
<rect x="416" y="690" width="1" height="28"/>
<rect x="420" y="690" width="1" height="29"/>
<rect x="424" y="690" width="1" height="31"/>
<rect x="428" y="690" width="1" height="33"/>
<rect x="432" y="690" width="1" height="34"/>
<rect x="436" y="690" width="1" height="33"/>
<rect x="440" y="690" width="1" height="32"/>
<rect x="444" y="690" width="1" height="32"/>
<rect x="448" y="690" width="1" height="32"/>
<rect x="452" y="690" width="1" height="34"/>
<rect x="456" y="690" width="1" height="35"/>
<rect x="460" y="690" width="1" height="38"/>
<rect x="464" y="690" width="1" height="41"/>
<rect x="468" y="690" width="1" height="43"/>
<rect x="472" y="690" width="1" height="47"/>
<rect x="476" y="690" width="1" height="49"/>
<rect x="480" y="690" width="1" height="48"/>
<rect x="484" y="690" width="1" height="47"/>
<rect x="488" y="690" width="1" height="47"/>
<rect x="492" y="690" width="1" height="47"/>
<rect x="496" y="690" width="1" height="44"/>
<rect x="500" y="690" width="1" height="43"/>
<rect x="504" y="690" width="1" height="42"/>
<rect x="508" y="690" width="1" height="41"/>
<rect x="512" y="690" width="1" height="39"/>
<rect x="516" y="690" width="1" height="41"/>
<rect x="520" y="690" width="1" height="44"/>
<rect x="524" y="690" width="1" height="50"/>
<rect x="528" y="690" width="1" height="52"/>
<rect x="532" y="690" width="1" height="52"/>
<rect x="536" y="690" width="1" height="51"/>
<rect x="540" y="690" width="1" height="47"/>
<rect x="544" y="690" width="1" height="46"/>
<rect x="548" y="690" width="1" height="40"/>
<rect x="552" y="690" width="1" height="33"/>
<rect x="556" y="690" width="1" height="28"/>
<rect x="560" y="690" width="1" height="23"/>
<rect x="564" y="690" width="1" height="22"/>
<rect x="568" y="690" width="1" height="19"/>
<rect x="572" y="690" width="1" height="21"/>
<rect x="576" y="690" width="1" height="27"/>
<rect x="580" y="690" width="1" height="29"/>
<rect x="584" y="690" width="1" height="32"/>
<rect x="588" y="690" width="1" height="37"/>
<rect x="592" y="690" width="1" height="39"/>
<rect x="596" y="690" width="1" height="41"/>
<rect x="600" y="690" width="1" height="40"/>
<rect x="604" y="690" width="1" height="46"/>
<rect x="608" y="690" width="1" height="49"/>
<rect x="612" y="690" width="1" height="45"/>
<rect x="616" y="690" width="1" height="42"/>
<rect x="620" y="690" width="1" height="42"/>
<rect x="624" y="690" width="1" height="41"/>
<rect x="628" y="690" width="1" height="43"/>
<rect x="632" y="690" width="1" height="43"/>
<rect x="636" y="690" width="1" height="45"/>
<rect x="640" y="690" width="1" height="48"/>
<rect x="644" y="690" width="1" height="52"/>
<rect x="648" y="690" width="1" height="51"/>
<rect x="652" y="690" width="1" height="50"/>
<rect x="656" y="690" width="1" height="48"/>
<rect x="660" y="690" width="1" height="43"/>
<rect x="664" y="690" width="1" height="38"/>
<rect x="668" y="690" width="1" height="31"/>
<rect x="672" y="690" width="1" height="26"/>
<rect x="676" y="690" width="1" height="25"/>
<rect x="680" y="690" width="1" height="24"/>
<rect x="684" y="690" width="1" height="23"/>
<rect x="688" y="690" width="1" height="23"/>
<rect x="692" y="690" width="1" height="27"/>
<rect x="696" y="690" width="1" height="33"/>
<rect x="700" y="690" width="1" height="40"/>
<rect x="704" y="690" width="1" height="46"/>
<rect x="708" y="690" width="1" height="45"/>
<rect x="712" y="690" width="1" height="46"/>
<rect x="716" y="690" width="1" height="45"/>
<rect x="720" y="690" width="1" height="45"/>
<rect x="724" y="690" width="1" height="44"/>
<rect x="728" y="690" width="1" height="44"/>
<rect x="732" y="690" width="1" height="47"/>
<rect x="736" y="690" width="1" height="50"/>
<rect x="740" y="690" width="1" height="52"/>
<rect x="744" y="690" width="1" height="50"/>
<rect x="748" y="690" width="1" height="51"/>
<rect x="752" y="690" width="1" height="52"/>
<rect x="756" y="690" width="1" height="48"/>
<rect x="760" y="690" width="1" height="44"/>
<rect x="764" y="690" width="1" height="42"/>
<rect x="768" y="690" width="1" height="41"/>
<rect x="772" y="690" width="1" height="39"/>
<rect x="776" y="690" width="1" height="37"/>
<rect x="780" y="690" width="1" height="34"/>
<rect x="784" y="690" width="1" height="33"/>
<rect x="788" y="690" width="1" height="33"/>
<rect x="792" y="690" width="1" height="35"/>
<rect x="796" y="690" width="1" height="39"/>
<rect x="800" y="690" width="1" height="41"/>
<rect x="804" y="690" width="1" height="41"/>
<rect x="808" y="690" width="1" height="41"/>
<rect x="812" y="690" width="1" height="40"/>
<rect x="816" y="690" width="1" height="37"/>
<rect x="820" y="690" width="1" height="35"/>
<rect x="824" y="690" width="1" height="32"/>
<rect x="828" y="690" width="1" height="30"/>
<rect x="832" y="690" width="1" height="30"/>
<rect x="836" y="690" width="1" height="30"/>
<rect x="840" y="690" width="1" height="30"/>
<rect x="844" y="690" width="1" height="29"/>
<rect x="848" y="690" width="1" height="28"/>
<rect x="852" y="690" width="1" height="24"/>
<rect x="856" y="690" width="1" height="20"/>
<rect x="860" y="690" width="1" height="19"/>
<rect x="864" y="690" width="1" height="20"/>
<rect x="868" y="690" width="1" height="19"/>
<rect x="872" y="690" width="1" height="17"/>
<rect x="876" y="690" width="1" height="16"/>
<rect x="880" y="690" width="1" height="18"/>
<rect x="884" y="690" width="1" height="20"/>
<rect x="888" y="690" width="1" height="20"/>
<rect x="892" y="690" width="1" height="20"/>
<rect x="896" y="690" width="1" height="26"/>
<rect x="900" y="690" width="1" height="31"/>
<rect x="904" y="690" width="1" height="33"/>
<rect x="908" y="690" width="1" height="33"/>
<rect x="912" y="690" width="1" height="33"/>
<rect x="916" y="690" width="1" height="33"/>
<rect x="920" y="690" width="1" height="30"/>
<rect x="924" y="690" width="1" height="30"/>
<rect x="928" y="690" width="1" height="29"/>
<rect x="932" y="690" width="1" height="27"/>
<rect x="936" y="690" width="1" height="24"/>
<rect x="940" y="690" width="1" height="21"/>
<rect x="944" y="690" width="1" height="17"/>
<rect x="948" y="690" width="1" height="16"/>
<rect x="952" y="690" width="1" height="17"/>
<rect x="956" y="690" width="1" height="17"/>
<rect x="960" y="690" width="1" height="14"/>
<rect x="964" y="690" width="1" height="10"/>
<rect x="968" y="690" width="1" height="9"/>
<rect x="972" y="690" width="1" height="9"/>
<rect x="976" y="690" width="1" height="7"/>
<rect x="980" y="690" width="1" height="7"/>
<rect x="984" y="690" width="1" height="12"/>
<rect x="988" y="690" width="1" height="14"/>
<rect x="992" y="690" width="1" height="12"/>
<rect x="996" y="690" width="1" height="12"/>
<rect x="1000" y="690" width="1" height="12"/>
<rect x="1004" y="690" width="1" height="10"/>
<rect x="1008" y="690" width="1" height="11"/>
<rect x="1012" y="690" width="1" height="11"/>
<rect x="1016" y="690" width="1" height="13"/>
<rect x="1020" y="690" width="1" height="17"/>
<rect x="1024" y="690" width="1" height="19"/>
<rect x="1028" y="690" width="1" height="22"/>
<rect x="1032" y="690" width="1" height="23"/>
<rect x="1036" y="690" width="1" height="24"/>
<rect x="1040" y="690" width="1" height="26"/>
<rect x="1044" y="690" width="1" height="25"/>
<rect x="1048" y="690" width="1" height="22"/>
<rect x="1052" y="690" width="1" height="16"/>
<rect x="1056" y="690" width="1" height="13"/>
<rect x="1060" y="690" width="1" height="10"/>
<rect x="1064" y="690" width="1" height="6"/>
<rect x="1068" y="690" width="1" height="5"/>
<rect x="1072" y="690" width="1" height="4"/>
<rect x="1076" y="690" width="1" height="2"/>
<rect x="1080" y="689" width="1" height="1"/>
<rect x="1084" y="686" width="1" height="4"/>
<rect x="1088" y="686" width="1" height="4"/>
<rect x="1092" y="684" width="1" height="6"/>
<rect x="1096" y="684" width="1" height="6"/>
<rect x="1100" y="683" width="1" height="7"/>
<rect x="1104" y="678" width="1" height="12"/>
<rect x="1108" y="675" width="1" height="15"/>
<rect x="1112" y="668" width="1" height="22"/>
<rect x="1116" y="667" width="1" height="23"/>
<rect x="1120" y="667" width="1" height="23"/>
<rect x="1124" y="669" width="1" height="21"/>
<rect x="1128" y="670" width="1" height="20"/>
<rect x="1132" y="672" width="1" height="18"/>
<rect x="1136" y="673" width="1" height="17"/>
<rect x="1140" y="674" width="1" height="16"/>
<rect x="1144" y="674" width="1" height="16"/>
<rect x="1148" y="675" width="1" height="15"/>
<rect x="1152" y="675" width="1" height="15"/>
<rect x="1156" y="676" width="1" height="14"/>
<rect x="1160" y="677" width="1" height="13"/>
<rect x="1164" y="677" width="1" height="13"/>
<rect x="1168" y="675" width="1" height="15"/>
<rect x="1172" y="672" width="1" height="18"/>
<rect x="1176" y="670" width="1" height="20"/>
<rect x="1180" y="669" width="1" height="21"/>
<rect x="1184" y="665" width="1" height="25"/>
<rect x="1188" y="662" width="1" height="28"/>
<rect x="1192" y="661" width="1" height="29"/>
<rect x="1196" y="659" width="1" height="31"/>
<rect x="1200" y="659" width="1" height="31"/>
<rect x="1204" y="659" width="1" height="31"/>
<rect x="1208" y="661" width="1" height="29"/>
<rect x="1212" y="664" width="1" height="26"/>
<rect x="1216" y="667" width="1" height="23"/>
<rect x="1220" y="667" width="1" height="23"/>
<rect x="1224" y="668" width="1" height="22"/>
<rect x="1228" y="669" width="1" height="21"/>
<rect x="1232" y="671" width="1" height="19"/>
<rect x="1236" y="674" width="1" height="16"/>
<rect x="1240" y="678" width="1" height="12"/>
<rect x="1244" y="681" width="1" height="9"/>
<rect x="1248" y="684" width="1" height="6"/>
<rect x="1252" y="686" width="1" height="4"/>
<rect x="1256" y="688" width="1" height="2"/>
</g>
<path d="M4 683h3v1h-3zM10 684h3v1h-3zM16 684h2v1h-2zM18 683h1v1h-1zM22 683h3v1h-3zM28 683h3v1h-3zM34 682h3v1h-3zM40 682h3v1h-3zM46 682h3v1h-3zM52 682h3v1h-3zM58 681h3v1h-3zM64 680h2v1h-2zM66 679h1v1h-1zM70 678h3v1h-3zM76 678h2v1h-2zM78 677h1v1h-1zM82 677h3v1h-3zM88 677h3v1h-3zM94 678h3v1h-3zM100 678h2v1h-2zM102 679h1v1h-1zM106 679h3v1h-3zM112 679h3v1h-3zM118 679h3v1h-3zM124 678h3v1h-3zM130 677h3v1h-3zM136 676h2v1h-2zM138 675h1v1h-1zM142 674h3v1h-3zM148 673h1v1h-1zM149 672h2v1h-2zM154 670h3v1h-3zM160 670h3v1h-3zM166 671h3v1h-3zM172 673h1v1h-1zM173 674h1v1h-1zM174 675h1v1h-1zM178 678h1v1h-1zM179 679h1v1h-1zM180 680h1v1h-1zM184 684h1v1h-1zM185 685h1v1h-1zM186 686h1v1h-1zM189 690h1v1h-1zM190 691h1v1h-1zM191 692h1v1h-1zM195 696h1v1h-1zM196 697h1v1h-1zM197 698h1v1h-1zM201 701h1v1h-1zM202 702h2v1h-2zM207 705h3v1h-3zM213 706h1v1h-1zM214 707h2v1h-2zM219 707h3v1h-3zM225 707h3v1h-3zM231 706h3v1h-3zM237 706h3v1h-3zM243 705h3v1h-3zM249 705h1v1h-1zM250 704h2v1h-2zM255 704h3v1h-3zM261 703h1v1h-1zM262 702h2v1h-2zM267 702h3v1h-3zM273 701h3v1h-3zM279 702h2v1h-2zM281 703h1v1h-1zM285 705h2v1h-2zM287 706h1v1h-1zM291 708h2v1h-2zM293 709h1v1h-1zM297 711h1v1h-1zM298 712h2v1h-2zM303 715h2v1h-2zM305 716h1v1h-1zM309 719h2v1h-2zM311 720h1v1h-1zM315 721h3v1h-3zM321 722h1v1h-1zM322 723h2v1h-2zM327 723h3v1h-3zM333 723h1v1h-1zM334 722h2v1h-2zM339 722h2v1h-2zM341 721h1v1h-1zM345 719h2v1h-2zM347 718h1v1h-1zM351 716h2v1h-2zM353 715h1v1h-1zM357 713h2v1h-2zM359 712h1v1h-1zM363 710h3v1h-3zM369 709h1v1h-1zM370 708h2v1h-2zM375 707h3v1h-3zM381 708h3v1h-3zM387 709h3v1h-3zM393 710h1v1h-1zM394 711h2v1h-2zM399 712h2v1h-2zM401 713h1v1h-1zM405 714h1v1h-1zM406 715h2v1h-2zM411 716h3v1h-3zM417 716h1v1h-1zM418 717h2v1h-2zM423 717h3v1h-3zM429 718h1v1h-1zM430 719h2v1h-2zM435 720h3v1h-3zM441 720h1v1h-1zM442 721h2v1h-2zM447 721h3v1h-3zM453 722h3v1h-3zM459 723h3v1h-3zM465 724h1v1h-1zM466 725h2v1h-2zM471 726h2v1h-2zM473 727h1v1h-1zM477 729h2v1h-2zM479 730h1v1h-1zM483 732h3v1h-3zM489 734h2v1h-2zM491 735h1v1h-1zM495 735h3v1h-3zM501 736h3v1h-3zM507 735h3v1h-3zM513 734h1v1h-1zM514 733h2v1h-2zM519 733h3v1h-3zM525 733h3v1h-3zM531 734h3v1h-3zM537 735h1v1h-1zM538 736h2v1h-2zM543 736h3v1h-3zM549 736h3v1h-3zM555 734h2v1h-2zM557 733h1v1h-1zM561 730h1v1h-1zM562 729h1v1h-1zM563 728h1v1h-1zM567 725h1v1h-1zM568 724h1v1h-1zM569 723h1v1h-1zM573 719h2v1h-2zM575 718h1v1h-1zM579 716h3v1h-3zM585 715h1v1h-1zM586 716h2v1h-2zM591 717h2v1h-2zM593 718h1v1h-1zM597 720h2v1h-2zM599 721h1v1h-1zM603 723h1v1h-1zM604 724h1v1h-1zM605 725h1v1h-1zM609 728h2v1h-2zM611 729h1v1h-1zM615 731h3v1h-3zM621 732h3v1h-3zM627 733h3v1h-3zM633 733h1v1h-1zM634 734h2v1h-2zM639 734h3v1h-3zM645 734h1v1h-1zM646 735h2v1h-2zM651 736h3v1h-3zM657 736h3v1h-3zM663 736h3v1h-3zM669 734h1v1h-1zM670 733h2v1h-2zM675 730h2v1h-2zM677 729h1v1h-1zM681 726h1v1h-1zM682 725h2v1h-2zM687 722h1v1h-1zM688 721h1v1h-1zM689 720h1v1h-1zM693 718h1v1h-1zM694 717h2v1h-2zM699 717h2v1h-2zM701 718h1v1h-1zM705 720h2v1h-2zM707 721h1v1h-1zM711 723h2v1h-2zM713 724h1v1h-1zM717 727h2v1h-2zM719 728h1v1h-1zM723 730h1v1h-1zM724 731h1v1h-1zM725 732h1v1h-1zM729 733h1v1h-1zM730 734h2v1h-2zM735 735h3v1h-3zM741 736h3v1h-3zM747 737h3v1h-3zM753 738h3v1h-3zM759 738h3v1h-3zM765 738h1v1h-1zM766 737h2v1h-2zM771 736h2v1h-2zM773 735h1v1h-1zM777 733h2v1h-2zM779 732h1v1h-1zM783 730h2v1h-2zM785 729h1v1h-1zM789 728h1v1h-1zM790 727h2v1h-2zM795 726h3v1h-3zM801 726h3v1h-3zM807 727h3v1h-3zM813 727h3v1h-3zM819 728h3v1h-3zM825 727h3v1h-3zM831 726h3v1h-3zM837 724h2v1h-2zM839 723h1v1h-1zM843 722h3v1h-3zM849 720h2v1h-2zM851 719h1v1h-1zM855 718h2v1h-2zM857 717h1v1h-1zM861 716h1v1h-1zM862 715h2v1h-2zM867 714h2v1h-2zM869 713h1v1h-1zM873 712h1v1h-1zM874 711h2v1h-2zM879 710h3v1h-3zM885 709h1v1h-1zM886 708h2v1h-2zM891 708h3v1h-3zM897 709h1v1h-1zM898 710h2v1h-2zM903 712h2v1h-2zM905 713h1v1h-1zM909 714h1v1h-1zM910 715h2v1h-2zM915 717h3v1h-3zM921 718h1v1h-1zM922 719h2v1h-2zM927 720h3v1h-3zM933 721h1v1h-1zM934 720h2v1h-2zM939 719h2v1h-2zM941 718h1v1h-1zM945 716h2v1h-2zM947 715h1v1h-1zM951 713h3v1h-3zM957 711h2v1h-2zM959 710h1v1h-1zM963 708h2v1h-2zM965 707h1v1h-1zM969 705h2v1h-2zM971 704h1v1h-1zM975 703h2v1h-2zM977 702h1v1h-1zM981 701h3v1h-3zM987 700h3v1h-3zM993 700h3v1h-3zM999 700h3v1h-3zM1005 700h3v1h-3zM1011 701h3v1h-3zM1017 701h1v1h-1zM1018 702h2v1h-2zM1023 703h3v1h-3zM1029 704h1v1h-1zM1030 705h2v1h-2zM1035 706h2v1h-2zM1037 707h1v1h-1zM1041 708h1v1h-1zM1042 709h2v1h-2zM1047 711h3v1h-3zM1053 711h1v1h-1zM1054 710h2v1h-2zM1059 709h3v1h-3zM1065 707h2v1h-2zM1067 706h1v1h-1zM1071 704h1v1h-1zM1072 703h1v1h-1zM1073 702h1v1h-1zM1077 700h1v1h-1zM1078 699h2v1h-2zM1083 696h1v1h-1zM1084 695h1v1h-1zM1085 694h1v1h-1zM1089 692h2v1h-2zM1091 691h1v1h-1zM1095 689h3v1h-3zM1101 687h2v1h-2zM1103 686h1v1h-1zM1107 684h2v1h-2zM1109 683h1v1h-1zM1113 680h1v1h-1zM1114 679h2v1h-2zM1119 676h2v1h-2zM1121 675h1v1h-1zM1125 674h1v1h-1zM1126 673h2v1h-2zM1131 672h2v1h-2zM1133 671h1v1h-1zM1137 670h3v1h-3zM1143 670h3v1h-3zM1149 671h1v1h-1zM1150 672h2v1h-2zM1155 673h3v1h-3zM1161 673h1v1h-1zM1162 674h2v1h-2zM1167 675h3v1h-3zM1173 674h3v1h-3zM1179 673h3v1h-3zM1185 672h1v1h-1zM1186 671h2v1h-2zM1191 669h2v1h-2zM1193 668h1v1h-1zM1197 666h2v1h-2zM1199 665h1v1h-1zM1203 663h3v1h-3zM1209 662h3v1h-3zM1215 661h3v1h-3zM1221 662h3v1h-3zM1227 663h2v1h-2zM1229 664h1v1h-1zM1233 665h1v1h-1zM1234 666h2v1h-2zM1239 668h2v1h-2zM1241 669h1v1h-1zM1245 672h2v1h-2zM1247 673h1v1h-1zM1251 675h2v1h-2zM1253 676h1v1h-1z" fill="#ff0000" shape-rendering="crispEdges"/>
<g shape-rendering="crispEdges">
<line x1="4" y1="584.5" x2="1580" y2="584.5" stroke="#c0c0c0" stroke-width="1" stroke-dasharray="4 3"/>
<line x1="4" y1="621.5" x2="1580" y2="621.5" stroke="#c0c0c0" stroke-width="1" stroke-dasharray="4 3"/>
</g>
<path d="M4 604h1v1h-1zM5 603h2v1h-2zM7 602h3v1h-3zM10 601h3v1h-3zM13 599h1v2h-1zM14 598h1v1h-1zM15 596h1v2h-1zM16 595h2v1h-2zM18 596h3v1h-3zM21 597h1v1h-1zM22 598h1v2h-1zM23 600h1v1h-1zM24 601h1v1h-1zM25 600h1v1h-1zM26 599h2v1h-2zM28 598h2v1h-2zM30 599h7v1h-7zM37 600h1v1h-1zM38 601h1v1h-1zM39 602h1v1h-1zM40 603h5v1h-5zM45 604h1v1h-1zM46 605h3v1h-3zM48 604h1v1h-1zM48 606h1v1h-1zM49 600h1v4h-1zM50 596h1v4h-1zM51 592h1v4h-1zM52 590h1v2h-1zM52 589h5v1h-5zM57 590h1v1h-1zM58 591h2v1h-2zM60 592h1v1h-1zM61 593h1v1h-1zM62 594h1v1h-1zM63 595h1v1h-1zM64 596h1v1h-1zM65 595h1v1h-1zM66 594h3v1h-3zM68 593h1v1h-1zM69 595h1v2h-1zM70 597h1v2h-1zM71 599h1v2h-1zM72 601h1v2h-1zM73 603h1v1h-1zM74 604h2v1h-2zM76 605h1v1h-1zM77 604h1v1h-1zM78 603h2v1h-2zM80 602h1v1h-1zM81 601h1v1h-1zM82 600h2v1h-2zM84 599h1v1h-1zM85 600h1v1h-1zM86 601h2v1h-2zM88 602h1v1h-1zM89 601h1v1h-1zM90 600h2v1h-2zM92 599h1v1h-1zM93 598h2v1h-2zM95 597h2v1h-2zM97 596h1v1h-1zM98 595h2v1h-2zM100 594h2v1h-2zM102 595h3v1h-3zM105 596h1v1h-1zM106 597h2v1h-2zM108 598h1v1h-1zM109 599h1v1h-1zM110 600h2v1h-2zM112 601h1v1h-1zM113 602h2v1h-2zM115 603h2v1h-2zM117 601h1v2h-1zM118 600h1v1h-1zM119 598h1v2h-1zM120 597h1v1h-1zM121 596h1v1h-1zM122 594h1v2h-1zM123 593h1v1h-1zM124 592h2v1h-2zM126 593h11v1h-11zM136 592h1v1h-1zM137 590h1v2h-1zM138 588h1v2h-1zM139 586h1v2h-1zM140 584h1v2h-1zM141 586h1v3h-1zM142 589h1v2h-1zM143 591h1v3h-1zM144 595h1v1h-1zM144 594h3v1h-3zM147 593h2v1h-2zM149 594h1v1h-1zM150 595h2v1h-2zM152 596h1v1h-1zM153 597h1v1h-1zM154 598h1v2h-1zM155 600h1v1h-1zM156 601h1v1h-1zM157 602h1v2h-1zM158 604h1v1h-1zM159 605h1v2h-1zM160 607h1v1h-1zM161 606h2v1h-2zM163 605h3v1h-3zM166 606h3v1h-3zM169 607h1v2h-1zM170 609h1v2h-1zM171 611h1v2h-1zM172 613h1v1h-1zM172 614h5v1h-5zM177 615h2v1h-2zM179 616h2v1h-2zM181 615h1v1h-1zM182 613h1v2h-1zM183 612h1v1h-1zM184 611h1v1h-1zM185 612h1v1h-1zM186 613h1v1h-1zM187 614h1v1h-1zM188 615h1v1h-1zM189 614h1v1h-1zM190 612h1v2h-1zM191 611h1v1h-1zM192 610h1v1h-1zM193 609h2v1h-2zM195 608h3v1h-3zM198 607h8v1h-8zM206 606h4v1h-4zM210 607h7v1h-7zM217 608h2v1h-2zM219 609h3v1h-3zM222 608h3v1h-3zM225 609h1v1h-1zM226 610h1v2h-1zM227 612h1v1h-1zM228 613h2v1h-2zM230 614h3v1h-3zM233 612h1v2h-1zM234 610h1v2h-1zM235 608h1v2h-1zM236 606h1v2h-1zM237 605h2v1h-2zM239 604h3v1h-3zM242 603h4v1h-4zM246 602h3v1h-3zM249 603h1v1h-1zM250 604h2v1h-2zM252 605h1v1h-1zM253 606h1v1h-1zM254 607h1v1h-1zM255 608h1v1h-1zM256 609h2v1h-2zM258 610h3v1h-3zM261 609h2v1h-2zM263 608h10v1h-10zM272 609h1v1h-1zM273 610h1v3h-1zM274 613h1v4h-1zM275 617h1v3h-1zM276 620h1v2h-1zM277 622h2v1h-2zM279 623h3v1h-3zM282 624h4v1h-4zM286 625h3v1h-3zM289 623h1v2h-1zM290 622h1v1h-1zM291 620h1v2h-1zM292 619h2v1h-2zM294 618h3v1h-3zM297 619h1v1h-1zM298 620h2v1h-2zM300 621h1v1h-1zM301 619h1v2h-1zM302 618h1v1h-1zM303 616h1v2h-1zM304 615h1v1h-1zM305 616h1v1h-1zM306 617h1v2h-1zM307 619h1v1h-1zM308 620h5v1h-5zM313 619h1v1h-1zM314 618h2v1h-2zM316 617h2v1h-2zM318 618h7v1h-7zM325 619h1v1h-1zM326 620h3v1h-3zM328 621h1v1h-1zM329 617h1v3h-1zM330 614h1v3h-1zM331 611h1v3h-1zM332 610h1v1h-1zM332 609h2v1h-2zM334 610h3v1h-3zM336 609h1v1h-1zM337 607h1v2h-1zM338 605h1v2h-1zM339 603h1v2h-1zM340 601h1v1h-1zM340 602h2v1h-2zM342 603h2v1h-2zM344 604h1v1h-1zM345 605h1v1h-1zM346 606h1v1h-1zM347 607h1v1h-1zM348 608h2v1h-2zM350 607h4v1h-4zM354 608h3v1h-3zM357 607h1v1h-1zM358 606h1v1h-1zM359 605h2v1h-2zM360 604h1v1h-1zM361 606h1v2h-1zM362 608h1v2h-1zM363 610h1v2h-1zM364 613h1v1h-1zM364 612h2v1h-2zM366 611h2v1h-2zM368 610h1v1h-1zM369 611h2v1h-2zM371 612h3v1h-3zM374 613h3v1h-3zM377 614h1v2h-1zM378 616h1v2h-1zM379 618h1v2h-1zM380 621h1v1h-1zM380 620h2v1h-2zM382 618h1v2h-1zM383 617h1v1h-1zM384 616h1v1h-1zM385 614h1v2h-1zM386 612h1v2h-1zM387 610h1v2h-1zM388 609h2v1h-2zM390 610h3v1h-3zM393 611h2v1h-2zM395 612h2v1h-2zM397 613h1v1h-1zM398 614h2v1h-2zM400 615h1v1h-1zM401 616h2v1h-2zM403 617h2v1h-2zM405 616h1v1h-1zM406 614h1v2h-1zM407 613h1v1h-1zM408 612h2v1h-2zM410 613h4v1h-4zM414 612h3v1h-3zM417 613h1v1h-1zM418 614h2v1h-2zM420 615h1v1h-1zM421 616h1v1h-1zM422 617h1v1h-1zM423 618h1v1h-1zM424 619h1v1h-1zM425 618h2v1h-2zM427 617h2v1h-2zM429 618h2v1h-2zM431 619h2v1h-2zM433 617h1v2h-1zM434 616h1v1h-1zM435 614h1v2h-1zM436 613h2v1h-2zM438 612h3v1h-3zM441 613h1v1h-1zM442 614h1v1h-1zM443 615h1v1h-1zM444 616h5v1h-5zM449 617h1v1h-1zM450 618h1v2h-1zM451 620h1v1h-1zM452 621h5v1h-5zM457 622h1v1h-1zM458 623h1v1h-1zM459 624h1v1h-1zM460 625h6v1h-6zM466 626h3v1h-3zM469 627h1v1h-1zM470 628h2v1h-2zM472 629h2v1h-2zM474 628h3v1h-3zM477 626h1v2h-1zM478 624h1v2h-1zM479 622h1v2h-1zM480 620h1v1h-1zM480 621h3v1h-3zM483 622h3v1h-3zM486 623h7v1h-7zM492 622h1v1h-1zM493 620h1v2h-1zM494 618h1v2h-1zM495 616h1v2h-1zM496 614h1v1h-1zM496 615h2v1h-2zM498 616h1v1h-1zM499 617h1v1h-1zM500 618h2v1h-2zM502 619h3v1h-3zM505 618h1v1h-1zM506 617h2v1h-2zM508 616h2v1h-2zM510 617h3v1h-3zM513 618h1v1h-1zM514 619h1v2h-1zM515 621h1v1h-1zM516 622h1v1h-1zM517 623h1v1h-1zM518 624h1v1h-1zM519 625h1v1h-1zM520 626h1v1h-1zM521 627h1v1h-1zM522 628h1v1h-1zM523 629h1v1h-1zM524 630h1v1h-1zM525 629h1v1h-1zM526 627h1v2h-1zM527 626h1v1h-1zM528 625h1v1h-1zM529 624h1v1h-1zM530 623h2v1h-2zM532 622h1v1h-1zM533 621h2v1h-2zM535 620h2v1h-2zM536 619h1v1h-1zM537 617h1v2h-1zM538 614h1v3h-1zM539 612h1v2h-1zM540 610h1v1h-1zM540 611h2v1h-2zM542 612h1v2h-1zM543 614h2v1h-2zM544 615h1v1h-1zM545 612h1v2h-1zM546 609h1v3h-1zM547 607h1v2h-1zM548 605h1v2h-1zM549 604h1v1h-1zM550 603h2v1h-2zM552 602h6v1h-6zM558 603h3v1h-3zM561 604h1v1h-1zM562 605h1v1h-1zM563 606h1v1h-1zM564 607h1v1h-1zM565 606h1v1h-1zM566 605h2v1h-2zM568 604h1v1h-1zM569 605h1v2h-1zM570 607h1v2h-1zM571 609h1v2h-1zM572 611h1v1h-1zM573 612h1v2h-1zM574 614h1v2h-1zM575 616h1v2h-1zM576 618h1v1h-1zM577 617h1v1h-1zM578 616h1v1h-1zM579 615h1v1h-1zM580 614h2v1h-2zM582 615h3v1h-3zM585 616h1v1h-1zM586 617h1v1h-1zM587 618h1v1h-1zM588 619h1v1h-1zM589 618h1v1h-1zM590 617h1v1h-1zM591 616h1v1h-1zM592 615h2v1h-2zM594 616h3v1h-3zM597 615h1v1h-1zM598 614h2v1h-2zM600 613h1v1h-1zM601 614h1v2h-1zM602 616h1v2h-1zM603 618h1v2h-1zM604 620h5v1h-5zM608 619h1v1h-1zM609 616h1v3h-1zM610 613h1v3h-1zM611 610h1v3h-1zM612 609h1v1h-1zM612 608h5v1h-5zM617 609h1v1h-1zM618 610h1v1h-1zM619 611h1v1h-1zM620 612h1v1h-1zM621 611h2v1h-2zM623 610h2v1h-2zM625 611h1v1h-1zM626 612h1v1h-1zM627 613h1v1h-1zM628 614h2v1h-2zM630 613h3v1h-3zM633 614h1v1h-1zM634 615h2v1h-2zM636 616h2v1h-2zM638 617h3v1h-3zM641 618h1v1h-1zM642 619h2v1h-2zM644 620h1v1h-1zM645 618h1v2h-1zM646 617h1v1h-1zM647 615h1v2h-1zM648 614h2v1h-2zM650 613h4v1h-4zM654 614h3v1h-3zM657 612h1v2h-1zM658 610h1v2h-1zM659 608h1v2h-1zM660 607h1v1h-1zM660 606h2v1h-2zM662 605h3v1h-3zM665 604h1v1h-1zM666 603h1v1h-1zM667 602h1v1h-1zM668 601h1v1h-1zM669 602h2v1h-2zM671 603h2v1h-2zM673 604h1v1h-1zM674 605h1v1h-1zM675 606h1v1h-1zM676 607h2v1h-2zM678 608h7v1h-7zM685 609h2v1h-2zM687 610h2v1h-2zM689 611h1v2h-1zM690 613h1v1h-1zM691 614h1v2h-1zM692 616h1v1h-1zM693 617h1v1h-1zM694 618h1v1h-1zM695 619h1v1h-1zM696 620h1v1h-1zM697 621h2v1h-2zM699 622h3v1h-3zM702 623h3v1h-3zM704 622h1v1h-1zM705 619h1v3h-1zM706 617h1v2h-1zM707 614h1v3h-1zM708 612h1v1h-1zM708 613h2v1h-2zM710 614h2v1h-2zM712 615h1v1h-1zM713 614h1v1h-1zM714 613h2v1h-2zM716 612h1v1h-1zM717 613h1v1h-1zM718 614h2v1h-2zM720 615h1v1h-1zM721 614h2v1h-2zM723 613h3v1h-3zM726 614h3v1h-3zM729 615h1v1h-1zM730 616h1v1h-1zM731 617h1v1h-1zM732 618h1v1h-1zM733 619h2v1h-2zM735 620h3v1h-3zM738 619h3v1h-3zM741 618h1v1h-1zM742 616h1v2h-1zM743 615h1v1h-1zM744 614h1v1h-1zM745 615h1v1h-1zM746 616h2v1h-2zM748 617h2v1h-2zM750 618h3v1h-3zM752 617h1v1h-1zM753 615h1v2h-1zM754 613h1v2h-1zM755 611h1v2h-1zM756 610h1v1h-1zM756 609h5v1h-5zM761 610h2v1h-2zM763 611h2v1h-2zM765 612h2v1h-2zM767 613h2v1h-2zM769 612h2v1h-2zM771 611h6v1h-6zM777 610h2v1h-2zM779 609h2v1h-2zM781 610h1v1h-1zM782 611h1v1h-1zM783 612h1v1h-1zM784 613h2v1h-2zM786 614h3v1h-3zM789 615h1v1h-1zM790 616h1v1h-1zM791 617h1v1h-1zM792 618h1v1h-1zM793 619h1v1h-1zM794 620h2v1h-2zM796 621h5v1h-5zM801 620h1v1h-1zM802 619h2v1h-2zM804 618h2v1h-2zM806 617h7v1h-7zM813 615h1v2h-1zM814 613h1v2h-1zM815 611h1v2h-1zM816 610h2v1h-2zM818 611h4v1h-4zM822 612h4v1h-4zM826 611h3v1h-3zM829 612h1v1h-1zM830 613h2v1h-2zM832 614h1v1h-1zM833 615h1v1h-1zM834 616h1v1h-1zM835 617h1v1h-1zM836 618h1v1h-1zM837 617h1v1h-1zM838 616h1v1h-1zM839 615h1v1h-1zM840 614h9v1h-9zM848 613h1v1h-1zM849 611h1v2h-1zM850 608h1v3h-1zM851 606h1v2h-1zM852 605h1v1h-1zM852 604h5v1h-5zM857 605h1v1h-1zM858 606h1v1h-1zM859 607h1v1h-1zM860 608h1v1h-1zM861 609h1v1h-1zM862 610h1v1h-1zM863 611h1v1h-1zM864 612h2v1h-2zM866 611h3v1h-3zM869 609h1v2h-1zM870 608h1v1h-1zM871 606h1v2h-1zM872 605h1v1h-1zM873 606h1v1h-1zM874 607h1v1h-1zM875 608h1v1h-1zM876 609h1v1h-1zM877 610h1v1h-1zM878 611h1v2h-1zM879 613h1v1h-1zM880 614h2v1h-2zM882 615h3v1h-3zM885 614h1v1h-1zM886 613h2v1h-2zM888 612h5v1h-5zM892 613h1v1h-1zM893 614h1v2h-1zM894 616h1v3h-1zM895 619h1v2h-1zM896 621h1v2h-1zM897 623h2v1h-2zM899 624h2v1h-2zM901 623h1v1h-1zM902 621h1v2h-1zM903 620h1v1h-1zM904 619h1v1h-1zM905 617h1v2h-1zM906 616h1v1h-1zM907 614h1v2h-1zM908 613h1v1h-1zM909 614h1v1h-1zM910 615h2v1h-2zM912 616h1v1h-1zM913 615h1v1h-1zM914 614h2v1h-2zM916 613h1v1h-1zM917 612h1v1h-1zM918 611h1v1h-1zM919 610h1v1h-1zM920 609h1v1h-1zM921 610h1v1h-1zM922 611h1v1h-1zM923 612h1v1h-1zM924 613h2v1h-2zM926 612h3v1h-3zM929 611h1v1h-1zM930 610h2v1h-2zM932 609h1v1h-1zM933 608h1v1h-1zM934 607h1v1h-1zM935 606h1v1h-1zM936 605h5v1h-5zM941 604h1v1h-1zM942 603h1v1h-1zM943 602h1v1h-1zM944 601h1v1h-1zM945 602h1v1h-1zM946 603h1v2h-1zM947 605h1v1h-1zM948 606h1v1h-1zM949 607h1v1h-1zM950 608h1v2h-1zM951 610h1v1h-1zM952 611h1v1h-1zM953 610h2v1h-2zM955 609h2v1h-2zM957 607h1v2h-1zM958 605h1v2h-1zM959 603h1v2h-1zM960 602h1v1h-1zM960 601h2v1h-2zM962 600h3v1h-3zM965 601h2v1h-2zM967 602h2v1h-2zM969 603h1v1h-1zM970 604h1v2h-1zM971 606h1v1h-1zM972 607h1v1h-1zM973 605h1v2h-1zM974 604h1v1h-1zM975 602h1v2h-1zM976 601h1v1h-1zM977 602h1v1h-1zM978 603h1v1h-1zM979 604h1v1h-1zM980 605h1v1h-1zM981 606h1v2h-1zM982 608h1v2h-1zM983 610h1v2h-1zM984 613h1v1h-1zM984 612h2v1h-2zM986 611h2v1h-2zM988 610h1v1h-1zM989 608h1v2h-1zM990 607h1v1h-1zM991 605h1v2h-1zM992 604h1v1h-1zM993 605h1v1h-1zM994 606h2v1h-2zM996 607h2v1h-2zM998 606h3v1h-3zM1001 605h1v1h-1zM1002 604h2v1h-2zM1004 603h1v1h-1zM1005 604h1v1h-1zM1006 605h2v1h-2zM1008 606h2v1h-2zM1010 607h3v1h-3zM1013 608h1v1h-1zM1014 609h1v1h-1zM1015 610h1v1h-1zM1016 611h1v1h-1zM1017 612h1v1h-1zM1018 613h1v1h-1zM1019 614h1v1h-1zM1020 615h1v1h-1zM1021 614h1v1h-1zM1022 613h2v1h-2zM1024 612h1v1h-1zM1025 613h2v1h-2zM1027 614h2v1h-2zM1029 613h2v1h-2zM1031 612h3v1h-3zM1034 613h3v1h-3zM1037 614h1v1h-1zM1038 615h2v1h-2zM1040 616h1v1h-1zM1041 614h1v2h-1zM1042 613h1v1h-1zM1043 611h1v2h-1zM1044 610h1v1h-1zM1045 608h1v2h-1zM1046 607h1v1h-1zM1047 605h1v2h-1zM1048 604h1v1h-1zM1049 602h1v2h-1zM1050 601h1v1h-1zM1051 599h1v2h-1zM1052 598h1v1h-1zM1053 599h1v1h-1zM1054 600h2v1h-2zM1056 601h2v1h-2zM1058 600h3v1h-3zM1061 599h1v1h-1zM1062 598h2v1h-2zM1064 597h1v1h-1zM1065 598h1v1h-1zM1066 599h1v2h-1zM1067 601h1v1h-1zM1068 602h6v1h-6zM1074 601h3v1h-3zM1077 600h1v1h-1zM1078 599h1v1h-1zM1079 598h1v1h-1zM1080 597h1v1h-1zM1081 596h2v1h-2zM1083 595h2v1h-2zM1085 596h1v1h-1zM1086 597h1v2h-1zM1087 599h1v1h-1zM1088 600h1v1h-1zM1089 599h2v1h-2zM1091 598h2v1h-2zM1093 599h2v1h-2zM1095 600h2v1h-2zM1097 599h2v1h-2zM1099 598h2v1h-2zM1100 597h1v1h-1zM1101 595h1v2h-1zM1102 593h1v2h-1zM1103 591h1v2h-1zM1104 589h1v1h-1zM1104 590h2v1h-2zM1106 591h2v1h-2zM1108 592h1v1h-1zM1109 590h1v2h-1zM1110 589h1v1h-1zM1111 587h1v2h-1zM1112 586h1v1h-1zM1113 587h1v2h-1zM1114 589h1v2h-1zM1115 591h1v2h-1zM1116 593h1v2h-1zM1117 595h2v1h-2zM1119 596h2v1h-2zM1121 597h1v1h-1zM1122 598h1v2h-1zM1123 600h1v1h-1zM1124 601h1v1h-1zM1125 600h1v1h-1zM1126 599h2v1h-2zM1128 598h1v1h-1zM1129 599h2v1h-2zM1131 600h2v1h-2zM1133 599h2v1h-2zM1135 598h2v1h-2zM1137 599h2v1h-2zM1139 600h2v1h-2zM1141 599h1v1h-1zM1142 598h2v1h-2zM1144 597h1v1h-1zM1145 598h2v1h-2zM1147 599h2v1h-2zM1149 598h2v1h-2zM1151 597h2v1h-2zM1153 598h2v1h-2zM1155 599h3v1h-3zM1158 600h3v1h-3zM1161 599h1v1h-1zM1162 598h2v1h-2zM1164 597h1v1h-1zM1165 596h1v1h-1zM1166 595h2v1h-2zM1168 594h1v1h-1zM1169 593h1v1h-1zM1170 591h1v2h-1zM1171 590h1v1h-1zM1172 589h1v1h-1zM1173 590h1v1h-1zM1174 591h2v1h-2zM1176 592h5v1h-5zM1181 590h1v2h-1zM1182 589h1v1h-1zM1183 587h1v2h-1zM1184 586h5v1h-5zM1189 587h1v1h-1zM1190 588h1v1h-1zM1191 589h1v1h-1zM1192 590h1v1h-1zM1193 589h2v1h-2zM1195 588h3v1h-3zM1198 589h7v1h-7zM1205 590h1v2h-1zM1206 592h1v1h-1zM1207 593h1v2h-1zM1208 595h1v1h-1zM1209 596h1v1h-1zM1210 597h1v2h-1zM1211 599h1v1h-1zM1212 600h1v1h-1zM1213 599h2v1h-2zM1215 598h2v1h-2zM1217 597h1v1h-1zM1218 596h1v1h-1zM1219 595h1v1h-1zM1220 594h1v1h-1zM1221 595h2v1h-2zM1223 596h3v1h-3zM1226 595h3v1h-3zM1229 596h1v1h-1zM1230 597h1v1h-1zM1231 598h1v1h-1zM1232 599h2v1h-2zM1234 600h3v1h-3zM1237 601h1v2h-1zM1238 603h1v2h-1zM1239 605h1v2h-1zM1240 607h6v1h-6zM1246 608h3v1h-3zM1249 607h2v1h-2zM1251 606h3v1h-3zM1254 605h3v1h-3z" fill="#1e90ff" shape-rendering="crispEdges"/>
<text x="8.3" y="566.8" font-size="10" fill="#000" stroke="#000" stroke-width="0.15" textLength="67.6" lengthAdjust="spacingAndGlyphs">RSI(14) 46.4110</text>
<text x="8.3" y="664.6" font-size="10" fill="#000" stroke="#000" stroke-width="0.15" textLength="147.7" lengthAdjust="spacingAndGlyphs">MACD(12,26,9) 0.001754 0.008815</text>
<g font-size="9.8" fill="#000" stroke="#000" stroke-width="0.2">
<text x="1584.2" y="565.2" textLength="14" lengthAdjust="spacingAndGlyphs">100</text>
<text x="1584.2" y="588.4" textLength="9.3" lengthAdjust="spacingAndGlyphs">70</text>
<text x="1584.2" y="625.3000000000001" textLength="9.3" lengthAdjust="spacingAndGlyphs">30</text>
<text x="1584.2" y="647.5" textLength="4.7" lengthAdjust="spacingAndGlyphs">0</text>
<text x="1584.2" y="663.4" textLength="37" lengthAdjust="spacingAndGlyphs">0.025623</text>
<text x="1584.2" y="694.1" textLength="18" lengthAdjust="spacingAndGlyphs">0.00</text>
<text x="1584.2" y="745.6" textLength="41" lengthAdjust="spacingAndGlyphs">-0.040687</text>
</g>
<g shape-rendering="crispEdges" fill="#000"><rect x="1581" y="690" width="2" height="1"/></g>
<g shape-rendering="crispEdges" fill="#000">
<rect x="4" y="749" width="1" height="3"/>
<rect x="68" y="749" width="1" height="3"/>
<rect x="132" y="749" width="1" height="3"/>
<rect x="196" y="749" width="1" height="3"/>
<rect x="260" y="749" width="1" height="3"/>
<rect x="324" y="749" width="1" height="3"/>
<rect x="388" y="749" width="1" height="3"/>
<rect x="452" y="749" width="1" height="3"/>
<rect x="516" y="749" width="1" height="3"/>
<rect x="580" y="749" width="1" height="3"/>
<rect x="644" y="749" width="1" height="3"/>
<rect x="708" y="749" width="1" height="3"/>
<rect x="772" y="749" width="1" height="3"/>
<rect x="836" y="749" width="1" height="3"/>
<rect x="900" y="749" width="1" height="3"/>
<rect x="964" y="749" width="1" height="3"/>
<rect x="1028" y="749" width="1" height="3"/>
<rect x="1092" y="749" width="1" height="3"/>
<rect x="1156" y="749" width="1" height="3"/>
<rect x="1220" y="749" width="1" height="3"/>
</g>
<g font-size="9.8" fill="#000" stroke="#000" stroke-width="0.2">
<text x="3.3" y="760.6" textLength="50.5" lengthAdjust="spacingAndGlyphs">17 Apr 2020</text>
<text x="67.3" y="760.6" textLength="49.9" lengthAdjust="spacingAndGlyphs">6 May 2020</text>
<text x="131.3" y="760.6" textLength="53.9" lengthAdjust="spacingAndGlyphs">25 May 2020</text>
<text x="195.3" y="760.6" textLength="49.0" lengthAdjust="spacingAndGlyphs">12 Jun 2020</text>
<text x="259.3" y="760.6" textLength="40.7" lengthAdjust="spacingAndGlyphs">1 Jul 2020</text>
<text x="323.3" y="760.6" textLength="46.2" lengthAdjust="spacingAndGlyphs">20 Jul 2020</text>
<text x="387.3" y="760.6" textLength="46.8" lengthAdjust="spacingAndGlyphs">7 Aug 2020</text>
<text x="451.3" y="760.6" textLength="52.2" lengthAdjust="spacingAndGlyphs">26 Aug 2020</text>
<text x="515.3" y="760.6" textLength="50.2" lengthAdjust="spacingAndGlyphs">14 Sep 2020</text>
<text x="579.3" y="760.6" textLength="45.3" lengthAdjust="spacingAndGlyphs">2 Oct 2020</text>
<text x="643.3" y="760.6" textLength="50.2" lengthAdjust="spacingAndGlyphs">21 Oct 2020</text>
<text x="707.3" y="760.6" textLength="48.4" lengthAdjust="spacingAndGlyphs">9 Nov 2020</text>
<text x="771.3" y="760.6" textLength="53.0" lengthAdjust="spacingAndGlyphs">27 Nov 2020</text>
<text x="835.3" y="760.6" textLength="50.8" lengthAdjust="spacingAndGlyphs">16 Dec 2020</text>
<text x="899.3" y="760.6" textLength="43.1" lengthAdjust="spacingAndGlyphs">5 Jan 2021</text>
<text x="963.3" y="760.6" textLength="48.5" lengthAdjust="spacingAndGlyphs">23 Jan 2021</text>
<text x="1027.3" y="760.6" textLength="51.1" lengthAdjust="spacingAndGlyphs">11 Feb 2021</text>
<text x="1091.3" y="760.6" textLength="46.0" lengthAdjust="spacingAndGlyphs">2 Mar 2021</text>
<text x="1155.3" y="760.6" textLength="51.0" lengthAdjust="spacingAndGlyphs">20 Mar 2021</text>
<text x="1219.3" y="760.6" textLength="45.3" lengthAdjust="spacingAndGlyphs">8 Apr 2021</text>
</g>
<g shape-rendering="crispEdges">
<rect x="0" y="769" width="1623" height="1" fill="#e3e3e3"/><rect x="0" y="770" width="1623" height="1" fill="#fff"/>
<rect x="0" y="772" width="1623" height="1" fill="#fcfcfc"/><rect x="0" y="773" width="1623" height="18" fill="#f0f0f0"/>
<rect x="0" y="771" width="418" height="1" fill="#000"/><rect x="520" y="771" width="1103" height="1" fill="#000"/>
<rect x="0" y="772" width="1" height="18" fill="#646464"/>
<rect x="418" y="771" width="102" height="18" fill="#fff"/>
<rect x="417" y="771" width="1" height="19" fill="#000"/><rect x="520" y="771" width="1" height="19" fill="#000"/><rect x="417" y="789" width="104" height="1" fill="#000"/>
<rect x="0" y="791" width="1623" height="1" fill="#fff"/><rect x="0" y="792" width="1623" height="3" fill="#f0f0f0"/><rect x="0" y="795" width="1623" height="1" fill="#a0a0a0"/><rect x="0" y="796" width="1623" height="1" fill="#f4f4f4"/>
<rect x="109" y="774" width="1" height="14" fill="#505050"/>
<rect x="209" y="774" width="1" height="14" fill="#505050"/>
<rect x="313" y="774" width="1" height="14" fill="#505050"/>
<rect x="625" y="774" width="1" height="14" fill="#505050"/>
<rect x="729" y="774" width="1" height="14" fill="#505050"/>
<rect x="821" y="774" width="1" height="14" fill="#505050"/>
<rect x="905" y="774" width="1" height="14" fill="#505050"/>
<rect x="985" y="774" width="1" height="14" fill="#505050"/>
<rect x="1065" y="774" width="1" height="14" fill="#505050"/>
<rect x="1145" y="774" width="1" height="14" fill="#505050"/>
<rect x="1221" y="774" width="1" height="14" fill="#505050"/>
<rect x="1293" y="774" width="1" height="14" fill="#505050"/>
<rect x="1378" y="774" width="1" height="14" fill="#505050"/>
<rect x="1473" y="774" width="1" height="14" fill="#505050"/>
<rect x="1573" y="774" width="1" height="14" fill="#505050"/>
</g>
<g font-size="11.6" fill="#6b6b6b">
<text x="17.0" y="785.3" textLength="80.5" lengthAdjust="spacingAndGlyphs">EURUSD,Daily</text>
<text x="118.9" y="785.3" textLength="79.3" lengthAdjust="spacingAndGlyphs">USDCHF,Daily</text>
<text x="219.7" y="785.3" textLength="82.6" lengthAdjust="spacingAndGlyphs">AUDUSD,Daily</text>
<text x="323.5" y="785.3" textLength="82.0" lengthAdjust="spacingAndGlyphs">USDCAD,Daily</text>
<text x="532.7" y="785.3" textLength="81.1" lengthAdjust="spacingAndGlyphs">EURUSD,Daily</text>
<text x="636.5" y="785.3" textLength="81.1" lengthAdjust="spacingAndGlyphs">GBPUSD,Daily</text>
<text x="739.7" y="785.3" textLength="69.4" lengthAdjust="spacingAndGlyphs">XAUUSD,H4</text>
<text x="832.7" y="785.3" textLength="60.5" lengthAdjust="spacingAndGlyphs">HK50,M15</text>
<text x="915.3" y="785.3" textLength="57.4" lengthAdjust="spacingAndGlyphs">UK100,H1</text>
<text x="995.9" y="785.3" textLength="57.5" lengthAdjust="spacingAndGlyphs">UK100,H1</text>
<text x="1075.4" y="785.3" textLength="57.8" lengthAdjust="spacingAndGlyphs">GER30,H1</text>
<text x="1154.5" y="785.3" textLength="55.5" lengthAdjust="spacingAndGlyphs">FRA40,H1</text>
<text x="1230.5" y="785.3" textLength="51.3" lengthAdjust="spacingAndGlyphs">USOil,H1</text>
<text x="1302.7" y="785.3" textLength="63.2" lengthAdjust="spacingAndGlyphs">USDJPY,H1</text>
<text x="1387.9" y="785.3" textLength="73.2" lengthAdjust="spacingAndGlyphs">DJ30,Weekly</text>
<text x="1482.6" y="785.3" textLength="79.4" lengthAdjust="spacingAndGlyphs">CHINA300,H1</text>
<text x="1582.4" y="785.3" textLength="8.2" lengthAdjust="spacingAndGlyphs">U</text>
</g>
<text x="427" y="785.8" font-size="12" fill="#000" textLength="83.5" lengthAdjust="spacingAndGlyphs">USDCNH,Daily</text>
<path d="M1599.5 777 L1599.5 783.5 L1595.5 780.2Z" fill="#8c8c8c"/><path d="M1615 777 L1615 783.5 L1619 780.2Z" fill="#000"/>
</svg></body></html>
